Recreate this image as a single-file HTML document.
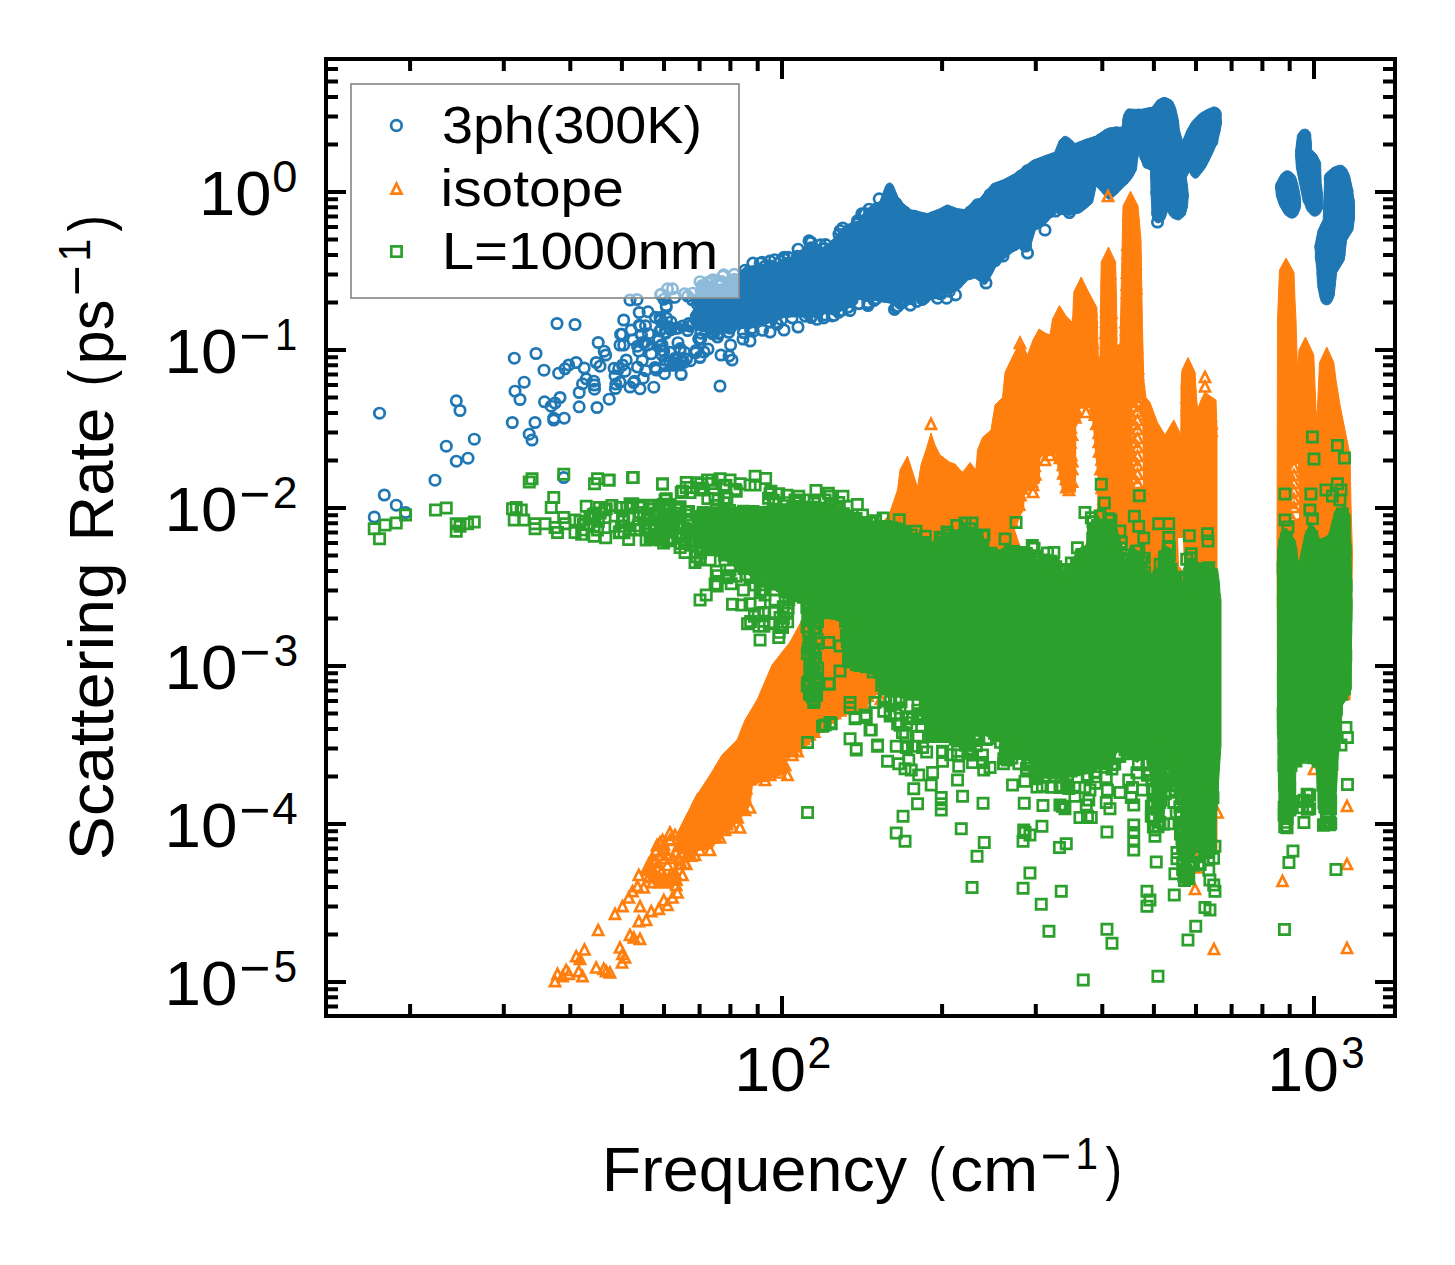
<!DOCTYPE html>
<html><head><meta charset="utf-8"><title>Scattering Rate</title>
<style>html,body{margin:0;padding:0;background:#fff}svg{display:block}text{font-family:"Liberation Sans",sans-serif;fill:#000}</style></head><body>
<svg width="1455" height="1265" viewBox="0 0 1455 1265">
<rect width="1455" height="1265" fill="#fff"/>
<defs><clipPath id="ax"><rect x="326" y="59" width="1069" height="957"/></clipPath></defs>
<g clip-path="url(#ax)">
<path d="M690.7 314.1L690.2 316L690.7 317.6L699.6 329.9L701.2 330.6L715.2 332.4L740 328.4L750 328.4L759.8 326.4L784.1 317.4L800.1 316.4L820 314.4L840.3 311.3L847.6 309L848.5 308.1L849 306.9L849.1 305.6L848.5 304.2L857.6 299.4L875.9 300.4L895.1 304.2L896.5 304.2L905.2 301.3L915.1 297.4L932.6 296.4L955 291.4L960.4 288.2L967.2 280.3L974.9 277.9L979.7 281.3L982.7 284.1L984 284.4L985.6 284.2L987.3 282.7L995.3 267.7L1005.2 257.9L1012.2 252.4L1020 248L1025.3 251.4L1027 251.5L1028.8 250.6L1029.6 249.1L1035.3 230.3L1045.1 224.4L1050.4 218.2L1056.1 212.9L1062.1 214.4L1069 215.3L1079.5 213L1080.8 212.4L1086.3 208.2L1092.6 202.7L1096.2 185.9L1107.8 198.9L1109.4 199.2L1110.7 198.9L1115.2 195.4L1130.3 180.2L1136 170.8L1136.5 169.4L1137.4 160L1139 151.8L1140.6 158.2L1143.5 166.8L1144.8 167.9L1146.9 168.4L1150.6 170.2L1151.1 195.1L1152.1 214.9L1152.9 219.2L1156 222.2L1157.5 222.8L1159.1 222.7L1163.3 220.7L1164.7 219.2L1167.6 211L1169.6 215.1L1172.7 218.2L1177.6 219.9L1179.7 219.8L1185.2 215.1L1187.4 207.1L1188.4 195L1186.4 177.6L1189 171L1191.5 175.8L1193.4 177.6L1194.6 178.1L1195.9 178.2L1197.9 177.2L1205.5 167.4L1212.8 152.8L1217.4 142.1L1220.3 130.3L1221.4 122L1220.9 113.9L1219.7 110L1218.1 108.2L1215 107L1213.3 106.9L1206.7 109.7L1199.7 113.8L1192.5 121.1L1187.2 129.8L1182.6 141.3L1179.4 129.9L1178.3 119.7L1175.5 107.7L1172.7 101.5L1171.5 100.3L1166 97.6L1164 97.5L1157.6 100L1152.3 107.1L1140 109.6L1128 108.9L1126.4 110.1L1123.7 114.9L1122.1 127.1L1109.4 127.8L1104.7 129.8L1097.3 135.6L1085 139.6L1075.1 143.5L1069.9 138.5L1066.4 136.4L1065 136.3L1063.7 136.6L1059.5 140.3L1054.7 152.2L1044.8 155.7L1032.4 160.6L1014.7 173.7L1003.8 179.6L992.3 183.8L979.8 198.6L974.6 199.9L964.9 209.6L957.1 208.6L947.7 204.9L946.1 205.3L939.8 208.7L927.5 213.6L910.2 209.6L903.3 203.7L897.8 196.8L893.5 186.2L892.2 184.2L890.5 183.1L888.3 183.2L887.2 184L885.6 186.1L879.7 202.2L873.7 203.5L872.6 204.1L864.7 211.7L858 221.2L845.4 225L837.3 234.8L827.8 244.7L818.3 249.5L813.5 246.1L812.2 245.8L810.9 246.1L809.3 247.3L803.1 256.4L798.3 253.1L797.1 252.7L795.8 252.9L794.4 253.8L789.2 260.6L745.3 266.8L739.9 271.6L734.7 277.7L714.8 287.7L700.1 299.4zM1290.9 171.9L1288.3 170.8L1286.1 170.9L1284.5 171.5L1281.2 174.2L1276.1 183.5L1275.5 186L1276.4 196.1L1279.7 205.7L1284.9 214.5L1289.4 217.6L1292.2 218.3L1295.3 217.2L1297.8 214.6L1300.5 207.6L1300.6 200.3L1299.5 192.2L1297.4 182.4L1294.6 175.2zM1308.1 130.2L1305.6 129.1L1302.3 129.5L1300.2 131.2L1297.5 135.3L1295.4 152.5L1296.4 167.7L1302.3 196.8L1306.6 209.2L1307.7 211.1L1311.4 215.1L1313.4 216.1L1315.5 216.2L1317.6 215.5L1319.6 213.9L1322.4 209L1323 206.7L1322.6 195.2L1321.1 182.4L1320.6 163.1L1320 161.2L1316.6 154.9L1311.6 149.7L1310.7 134.2L1309.7 131.8zM1323.2 219.8L1318 230.5L1315.2 244.9L1315.4 256.8L1316.9 270L1317.4 282.4L1319.5 295.5L1321.2 301.2L1322 302.7L1324.3 304.4L1327 304.9L1329.5 304L1331.4 302.3L1334.2 295.4L1336.6 272.7L1344.2 260.2L1346.6 240.2L1353 229.9L1354.6 216.4L1354.3 202.1L1352.5 189.7L1349.5 175.4L1346.5 168.9L1343.6 166.3L1341.7 165.3L1338.6 165.3L1332.7 167.6L1325.8 173.5L1324.7 175.5z" fill="#1f77b4" stroke="#1f77b4" stroke-width="1" stroke-linejoin="round"/>
<path d="M374.3 413.2a5.2 5.2 0 1 0 10.4 0a5.2 5.2 0 1 0 -10.4 0M451.1 400.8a5.2 5.2 0 1 0 10.4 0a5.2 5.2 0 1 0 -10.4 0M454.8 410.5a5.2 5.2 0 1 0 10.4 0a5.2 5.2 0 1 0 -10.4 0M469.1 439.2a5.2 5.2 0 1 0 10.4 0a5.2 5.2 0 1 0 -10.4 0M441.1 446.2a5.2 5.2 0 1 0 10.4 0a5.2 5.2 0 1 0 -10.4 0M462.8 458.2a5.2 5.2 0 1 0 10.4 0a5.2 5.2 0 1 0 -10.4 0M451.1 461.2a5.2 5.2 0 1 0 10.4 0a5.2 5.2 0 1 0 -10.4 0M429.8 480.2a5.2 5.2 0 1 0 10.4 0a5.2 5.2 0 1 0 -10.4 0M379.1 495a5.2 5.2 0 1 0 10.4 0a5.2 5.2 0 1 0 -10.4 0M391.1 505.2a5.2 5.2 0 1 0 10.4 0a5.2 5.2 0 1 0 -10.4 0M400.3 512.5a5.2 5.2 0 1 0 10.4 0a5.2 5.2 0 1 0 -10.4 0M369.1 517a5.2 5.2 0 1 0 10.4 0a5.2 5.2 0 1 0 -10.4 0M558.5 477.5a5.2 5.2 0 1 0 10.4 0a5.2 5.2 0 1 0 -10.4 0M509.1 358.2a5.2 5.2 0 1 0 10.4 0a5.2 5.2 0 1 0 -10.4 0M530.8 353.5a5.2 5.2 0 1 0 10.4 0a5.2 5.2 0 1 0 -10.4 0M551.8 323.5a5.2 5.2 0 1 0 10.4 0a5.2 5.2 0 1 0 -10.4 0M569.8 324.5a5.2 5.2 0 1 0 10.4 0a5.2 5.2 0 1 0 -10.4 0M538.8 370.2a5.2 5.2 0 1 0 10.4 0a5.2 5.2 0 1 0 -10.4 0M519 382.2a5.2 5.2 0 1 0 10.4 0a5.2 5.2 0 1 0 -10.4 0M509.8 391.2a5.2 5.2 0 1 0 10.4 0a5.2 5.2 0 1 0 -10.4 0M514.8 399.5a5.2 5.2 0 1 0 10.4 0a5.2 5.2 0 1 0 -10.4 0M507.1 422.5a5.2 5.2 0 1 0 10.4 0a5.2 5.2 0 1 0 -10.4 0M529.8 422.5a5.2 5.2 0 1 0 10.4 0a5.2 5.2 0 1 0 -10.4 0M524 434.2a5.2 5.2 0 1 0 10.4 0a5.2 5.2 0 1 0 -10.4 0M526.8 440a5.2 5.2 0 1 0 10.4 0a5.2 5.2 0 1 0 -10.4 0M539.3 401.8a5.2 5.2 0 1 0 10.4 0a5.2 5.2 0 1 0 -10.4 0M546 406.2a5.2 5.2 0 1 0 10.4 0a5.2 5.2 0 1 0 -10.4 0M549.8 403a5.2 5.2 0 1 0 10.4 0a5.2 5.2 0 1 0 -10.4 0M554.8 397.5a5.2 5.2 0 1 0 10.4 0a5.2 5.2 0 1 0 -10.4 0M548.5 418.2a5.2 5.2 0 1 0 10.4 0a5.2 5.2 0 1 0 -10.4 0M559 418.2a5.2 5.2 0 1 0 10.4 0a5.2 5.2 0 1 0 -10.4 0M548.5 420a5.2 5.2 0 1 0 10.4 0a5.2 5.2 0 1 0 -10.4 0M574 406.8a5.2 5.2 0 1 0 10.4 0a5.2 5.2 0 1 0 -10.4 0M574 392.5a5.2 5.2 0 1 0 10.4 0a5.2 5.2 0 1 0 -10.4 0M591.8 407.5a5.2 5.2 0 1 0 10.4 0a5.2 5.2 0 1 0 -10.4 0M604 399.2a5.2 5.2 0 1 0 10.4 0a5.2 5.2 0 1 0 -10.4 0M553.5 373.2a5.2 5.2 0 1 0 10.4 0a5.2 5.2 0 1 0 -10.4 0M559.8 368.8a5.2 5.2 0 1 0 10.4 0a5.2 5.2 0 1 0 -10.4 0M563.5 365a5.2 5.2 0 1 0 10.4 0a5.2 5.2 0 1 0 -10.4 0M571 362.5a5.2 5.2 0 1 0 10.4 0a5.2 5.2 0 1 0 -10.4 0M579 368a5.2 5.2 0 1 0 10.4 0a5.2 5.2 0 1 0 -10.4 0M581 378.8a5.2 5.2 0 1 0 10.4 0a5.2 5.2 0 1 0 -10.4 0M577.3 383.8a5.2 5.2 0 1 0 10.4 0a5.2 5.2 0 1 0 -10.4 0M588.5 381.2a5.2 5.2 0 1 0 10.4 0a5.2 5.2 0 1 0 -10.4 0M589.3 385a5.2 5.2 0 1 0 10.4 0a5.2 5.2 0 1 0 -10.4 0M589.3 389.2a5.2 5.2 0 1 0 10.4 0a5.2 5.2 0 1 0 -10.4 0M593 342.5a5.2 5.2 0 1 0 10.4 0a5.2 5.2 0 1 0 -10.4 0M599 351.2a5.2 5.2 0 1 0 10.4 0a5.2 5.2 0 1 0 -10.4 0M600.5 355a5.2 5.2 0 1 0 10.4 0a5.2 5.2 0 1 0 -10.4 0M591 362.5a5.2 5.2 0 1 0 10.4 0a5.2 5.2 0 1 0 -10.4 0M594.8 366.2a5.2 5.2 0 1 0 10.4 0a5.2 5.2 0 1 0 -10.4 0M609.8 375.8a5.2 5.2 0 1 0 10.4 0a5.2 5.2 0 1 0 -10.4 0M613.5 368.8a5.2 5.2 0 1 0 10.4 0a5.2 5.2 0 1 0 -10.4 0M617.3 365a5.2 5.2 0 1 0 10.4 0a5.2 5.2 0 1 0 -10.4 0M621 360a5.2 5.2 0 1 0 10.4 0a5.2 5.2 0 1 0 -10.4 0M619.8 371.2a5.2 5.2 0 1 0 10.4 0a5.2 5.2 0 1 0 -10.4 0M624.8 387a5.2 5.2 0 1 0 10.4 0a5.2 5.2 0 1 0 -10.4 0M628.5 382.5a5.2 5.2 0 1 0 10.4 0a5.2 5.2 0 1 0 -10.4 0M634.8 388.8a5.2 5.2 0 1 0 10.4 0a5.2 5.2 0 1 0 -10.4 0M638 378.2a5.2 5.2 0 1 0 10.4 0a5.2 5.2 0 1 0 -10.4 0M632.3 367a5.2 5.2 0 1 0 10.4 0a5.2 5.2 0 1 0 -10.4 0M618.5 320a5.2 5.2 0 1 0 10.4 0a5.2 5.2 0 1 0 -10.4 0M616.8 334.2a5.2 5.2 0 1 0 10.4 0a5.2 5.2 0 1 0 -10.4 0M614.8 345a5.2 5.2 0 1 0 10.4 0a5.2 5.2 0 1 0 -10.4 0M618.5 345a5.2 5.2 0 1 0 10.4 0a5.2 5.2 0 1 0 -10.4 0M624.8 300a5.2 5.2 0 1 0 10.4 0a5.2 5.2 0 1 0 -10.4 0M631.8 299.5a5.2 5.2 0 1 0 10.4 0a5.2 5.2 0 1 0 -10.4 0M634 312.5a5.2 5.2 0 1 0 10.4 0a5.2 5.2 0 1 0 -10.4 0M642.8 311.8a5.2 5.2 0 1 0 10.4 0a5.2 5.2 0 1 0 -10.4 0M634.8 326.2a5.2 5.2 0 1 0 10.4 0a5.2 5.2 0 1 0 -10.4 0M640.3 325.8a5.2 5.2 0 1 0 10.4 0a5.2 5.2 0 1 0 -10.4 0M626 330a5.2 5.2 0 1 0 10.4 0a5.2 5.2 0 1 0 -10.4 0M656 294.2a5.2 5.2 0 1 0 10.4 0a5.2 5.2 0 1 0 -10.4 0M662.3 288.8a5.2 5.2 0 1 0 10.4 0a5.2 5.2 0 1 0 -10.4 0M667.3 288.8a5.2 5.2 0 1 0 10.4 0a5.2 5.2 0 1 0 -10.4 0M654.8 317.5a5.2 5.2 0 1 0 10.4 0a5.2 5.2 0 1 0 -10.4 0M676 374.5a5.2 5.2 0 1 0 10.4 0a5.2 5.2 0 1 0 -10.4 0M678.5 362.5a5.2 5.2 0 1 0 10.4 0a5.2 5.2 0 1 0 -10.4 0M694.8 357.5a5.2 5.2 0 1 0 10.4 0a5.2 5.2 0 1 0 -10.4 0M649.8 367.5a5.2 5.2 0 1 0 10.4 0a5.2 5.2 0 1 0 -10.4 0M651 370a5.2 5.2 0 1 0 10.4 0a5.2 5.2 0 1 0 -10.4 0M659.8 360a5.2 5.2 0 1 0 10.4 0a5.2 5.2 0 1 0 -10.4 0M664.8 362.5a5.2 5.2 0 1 0 10.4 0a5.2 5.2 0 1 0 -10.4 0M646 353.8a5.2 5.2 0 1 0 10.4 0a5.2 5.2 0 1 0 -10.4 0M632.3 346.2a5.2 5.2 0 1 0 10.4 0a5.2 5.2 0 1 0 -10.4 0M637.3 342.5a5.2 5.2 0 1 0 10.4 0a5.2 5.2 0 1 0 -10.4 0M642.3 345a5.2 5.2 0 1 0 10.4 0a5.2 5.2 0 1 0 -10.4 0M633.5 351.2a5.2 5.2 0 1 0 10.4 0a5.2 5.2 0 1 0 -10.4 0M654.8 346.2a5.2 5.2 0 1 0 10.4 0a5.2 5.2 0 1 0 -10.4 0M658.5 351.2a5.2 5.2 0 1 0 10.4 0a5.2 5.2 0 1 0 -10.4 0M659.8 332.5a5.2 5.2 0 1 0 10.4 0a5.2 5.2 0 1 0 -10.4 0M656 328.8a5.2 5.2 0 1 0 10.4 0a5.2 5.2 0 1 0 -10.4 0M1050.4 211a5.2 5.2 0 1 0 10.4 0a5.2 5.2 0 1 0 -10.4 0M1064.2 212.5a5.2 5.2 0 1 0 10.4 0a5.2 5.2 0 1 0 -10.4 0M1020.4 246a5.2 5.2 0 1 0 10.4 0a5.2 5.2 0 1 0 -10.4 0M997.8 256a5.2 5.2 0 1 0 10.4 0a5.2 5.2 0 1 0 -10.4 0M980.8 283a5.2 5.2 0 1 0 10.4 0a5.2 5.2 0 1 0 -10.4 0M694.8 357a5.2 5.2 0 1 0 10.4 0a5.2 5.2 0 1 0 -10.4 0M698.8 352a5.2 5.2 0 1 0 10.4 0a5.2 5.2 0 1 0 -10.4 0M702.8 349a5.2 5.2 0 1 0 10.4 0a5.2 5.2 0 1 0 -10.4 0M715.8 355a5.2 5.2 0 1 0 10.4 0a5.2 5.2 0 1 0 -10.4 0M723.8 356a5.2 5.2 0 1 0 10.4 0a5.2 5.2 0 1 0 -10.4 0M726.8 360a5.2 5.2 0 1 0 10.4 0a5.2 5.2 0 1 0 -10.4 0M725.4 345a5.2 5.2 0 1 0 10.4 0a5.2 5.2 0 1 0 -10.4 0M712.3 337a5.2 5.2 0 1 0 10.4 0a5.2 5.2 0 1 0 -10.4 0M737.8 339a5.2 5.2 0 1 0 10.4 0a5.2 5.2 0 1 0 -10.4 0M744.8 341a5.2 5.2 0 1 0 10.4 0a5.2 5.2 0 1 0 -10.4 0M764.8 332a5.2 5.2 0 1 0 10.4 0a5.2 5.2 0 1 0 -10.4 0M778.8 330a5.2 5.2 0 1 0 10.4 0a5.2 5.2 0 1 0 -10.4 0M792.8 327a5.2 5.2 0 1 0 10.4 0a5.2 5.2 0 1 0 -10.4 0M714.8 386a5.2 5.2 0 1 0 10.4 0a5.2 5.2 0 1 0 -10.4 0M675.8 374a5.2 5.2 0 1 0 10.4 0a5.2 5.2 0 1 0 -10.4 0M1039.8 230a5.2 5.2 0 1 0 10.4 0a5.2 5.2 0 1 0 -10.4 0M1022.3 253a5.2 5.2 0 1 0 10.4 0a5.2 5.2 0 1 0 -10.4 0M1152.3 222a5.2 5.2 0 1 0 10.4 0a5.2 5.2 0 1 0 -10.4 0M706.1 281.7a5.2 5.2 0 1 0 10.4 0a5.2 5.2 0 1 0 -10.4 0M717.6 276.1a5.2 5.2 0 1 0 10.4 0a5.2 5.2 0 1 0 -10.4 0M713.6 297a5.2 5.2 0 1 0 10.4 0a5.2 5.2 0 1 0 -10.4 0M696.8 307a5.2 5.2 0 1 0 10.4 0a5.2 5.2 0 1 0 -10.4 0M696.1 301.8a5.2 5.2 0 1 0 10.4 0a5.2 5.2 0 1 0 -10.4 0M709.7 329.7a5.2 5.2 0 1 0 10.4 0a5.2 5.2 0 1 0 -10.4 0M699.1 286.8a5.2 5.2 0 1 0 10.4 0a5.2 5.2 0 1 0 -10.4 0M715 299.2a5.2 5.2 0 1 0 10.4 0a5.2 5.2 0 1 0 -10.4 0M729 274.3a5.2 5.2 0 1 0 10.4 0a5.2 5.2 0 1 0 -10.4 0M724.8 291.6a5.2 5.2 0 1 0 10.4 0a5.2 5.2 0 1 0 -10.4 0M705.6 328.9a5.2 5.2 0 1 0 10.4 0a5.2 5.2 0 1 0 -10.4 0M701.1 312.3a5.2 5.2 0 1 0 10.4 0a5.2 5.2 0 1 0 -10.4 0M717.2 297.4a5.2 5.2 0 1 0 10.4 0a5.2 5.2 0 1 0 -10.4 0M696.9 285.6a5.2 5.2 0 1 0 10.4 0a5.2 5.2 0 1 0 -10.4 0M718.6 301.4a5.2 5.2 0 1 0 10.4 0a5.2 5.2 0 1 0 -10.4 0M705.8 312.6a5.2 5.2 0 1 0 10.4 0a5.2 5.2 0 1 0 -10.4 0M710.7 292.3a5.2 5.2 0 1 0 10.4 0a5.2 5.2 0 1 0 -10.4 0M722.6 320.6a5.2 5.2 0 1 0 10.4 0a5.2 5.2 0 1 0 -10.4 0M703.3 311.8a5.2 5.2 0 1 0 10.4 0a5.2 5.2 0 1 0 -10.4 0M713.2 333.1a5.2 5.2 0 1 0 10.4 0a5.2 5.2 0 1 0 -10.4 0M720.3 291.4a5.2 5.2 0 1 0 10.4 0a5.2 5.2 0 1 0 -10.4 0M729.1 279.4a5.2 5.2 0 1 0 10.4 0a5.2 5.2 0 1 0 -10.4 0M709.4 324.8a5.2 5.2 0 1 0 10.4 0a5.2 5.2 0 1 0 -10.4 0M700.1 305.7a5.2 5.2 0 1 0 10.4 0a5.2 5.2 0 1 0 -10.4 0M696.2 318.4a5.2 5.2 0 1 0 10.4 0a5.2 5.2 0 1 0 -10.4 0M721.6 311.7a5.2 5.2 0 1 0 10.4 0a5.2 5.2 0 1 0 -10.4 0M725.4 293.3a5.2 5.2 0 1 0 10.4 0a5.2 5.2 0 1 0 -10.4 0M719.1 313.2a5.2 5.2 0 1 0 10.4 0a5.2 5.2 0 1 0 -10.4 0M715.1 303.4a5.2 5.2 0 1 0 10.4 0a5.2 5.2 0 1 0 -10.4 0M711.4 318.2a5.2 5.2 0 1 0 10.4 0a5.2 5.2 0 1 0 -10.4 0M696.9 320.8a5.2 5.2 0 1 0 10.4 0a5.2 5.2 0 1 0 -10.4 0M723.6 291.2a5.2 5.2 0 1 0 10.4 0a5.2 5.2 0 1 0 -10.4 0M708.3 318.5a5.2 5.2 0 1 0 10.4 0a5.2 5.2 0 1 0 -10.4 0M695.6 303.8a5.2 5.2 0 1 0 10.4 0a5.2 5.2 0 1 0 -10.4 0M696.9 325.5a5.2 5.2 0 1 0 10.4 0a5.2 5.2 0 1 0 -10.4 0M699.3 288.6a5.2 5.2 0 1 0 10.4 0a5.2 5.2 0 1 0 -10.4 0M708.5 332.9a5.2 5.2 0 1 0 10.4 0a5.2 5.2 0 1 0 -10.4 0M697.6 302.9a5.2 5.2 0 1 0 10.4 0a5.2 5.2 0 1 0 -10.4 0M714 333.7a5.2 5.2 0 1 0 10.4 0a5.2 5.2 0 1 0 -10.4 0M723.5 332.3a5.2 5.2 0 1 0 10.4 0a5.2 5.2 0 1 0 -10.4 0M704.5 300.5a5.2 5.2 0 1 0 10.4 0a5.2 5.2 0 1 0 -10.4 0M707.4 333.8a5.2 5.2 0 1 0 10.4 0a5.2 5.2 0 1 0 -10.4 0M728.3 281.7a5.2 5.2 0 1 0 10.4 0a5.2 5.2 0 1 0 -10.4 0M701 287.5a5.2 5.2 0 1 0 10.4 0a5.2 5.2 0 1 0 -10.4 0M703 305.4a5.2 5.2 0 1 0 10.4 0a5.2 5.2 0 1 0 -10.4 0M715.4 289.7a5.2 5.2 0 1 0 10.4 0a5.2 5.2 0 1 0 -10.4 0M694.9 300.7a5.2 5.2 0 1 0 10.4 0a5.2 5.2 0 1 0 -10.4 0M707.7 311.2a5.2 5.2 0 1 0 10.4 0a5.2 5.2 0 1 0 -10.4 0M728.2 320a5.2 5.2 0 1 0 10.4 0a5.2 5.2 0 1 0 -10.4 0M712.8 314.8a5.2 5.2 0 1 0 10.4 0a5.2 5.2 0 1 0 -10.4 0M718.5 274.8a5.2 5.2 0 1 0 10.4 0a5.2 5.2 0 1 0 -10.4 0M726.3 326.4a5.2 5.2 0 1 0 10.4 0a5.2 5.2 0 1 0 -10.4 0M725.4 327.6a5.2 5.2 0 1 0 10.4 0a5.2 5.2 0 1 0 -10.4 0M708.5 299.3a5.2 5.2 0 1 0 10.4 0a5.2 5.2 0 1 0 -10.4 0M698.4 316a5.2 5.2 0 1 0 10.4 0a5.2 5.2 0 1 0 -10.4 0M702.1 282.5a5.2 5.2 0 1 0 10.4 0a5.2 5.2 0 1 0 -10.4 0M694.8 281.7a5.2 5.2 0 1 0 10.4 0a5.2 5.2 0 1 0 -10.4 0M698.4 296.8a5.2 5.2 0 1 0 10.4 0a5.2 5.2 0 1 0 -10.4 0M695.7 333.1a5.2 5.2 0 1 0 10.4 0a5.2 5.2 0 1 0 -10.4 0M716.3 281.5a5.2 5.2 0 1 0 10.4 0a5.2 5.2 0 1 0 -10.4 0M703.6 295.7a5.2 5.2 0 1 0 10.4 0a5.2 5.2 0 1 0 -10.4 0M707.5 279.7a5.2 5.2 0 1 0 10.4 0a5.2 5.2 0 1 0 -10.4 0M711.1 305.4a5.2 5.2 0 1 0 10.4 0a5.2 5.2 0 1 0 -10.4 0M706.8 289.8a5.2 5.2 0 1 0 10.4 0a5.2 5.2 0 1 0 -10.4 0M723.8 282.5a5.2 5.2 0 1 0 10.4 0a5.2 5.2 0 1 0 -10.4 0M695.6 338.5a5.2 5.2 0 1 0 10.4 0a5.2 5.2 0 1 0 -10.4 0M713.3 281.4a5.2 5.2 0 1 0 10.4 0a5.2 5.2 0 1 0 -10.4 0M725 320.4a5.2 5.2 0 1 0 10.4 0a5.2 5.2 0 1 0 -10.4 0M703.9 297a5.2 5.2 0 1 0 10.4 0a5.2 5.2 0 1 0 -10.4 0M700.6 325.8a5.2 5.2 0 1 0 10.4 0a5.2 5.2 0 1 0 -10.4 0M713.4 326.3a5.2 5.2 0 1 0 10.4 0a5.2 5.2 0 1 0 -10.4 0M706.3 286.8a5.2 5.2 0 1 0 10.4 0a5.2 5.2 0 1 0 -10.4 0M724.6 328.2a5.2 5.2 0 1 0 10.4 0a5.2 5.2 0 1 0 -10.4 0M723.4 323.5a5.2 5.2 0 1 0 10.4 0a5.2 5.2 0 1 0 -10.4 0M702.7 307.8a5.2 5.2 0 1 0 10.4 0a5.2 5.2 0 1 0 -10.4 0M695.8 290.8a5.2 5.2 0 1 0 10.4 0a5.2 5.2 0 1 0 -10.4 0M703.9 320.2a5.2 5.2 0 1 0 10.4 0a5.2 5.2 0 1 0 -10.4 0M728.3 302.8a5.2 5.2 0 1 0 10.4 0a5.2 5.2 0 1 0 -10.4 0M728.2 296.9a5.2 5.2 0 1 0 10.4 0a5.2 5.2 0 1 0 -10.4 0M702.5 287.1a5.2 5.2 0 1 0 10.4 0a5.2 5.2 0 1 0 -10.4 0M658.7 299.2a5.2 5.2 0 1 0 10.4 0a5.2 5.2 0 1 0 -10.4 0M677.9 361.1a5.2 5.2 0 1 0 10.4 0a5.2 5.2 0 1 0 -10.4 0M687.6 323.7a5.2 5.2 0 1 0 10.4 0a5.2 5.2 0 1 0 -10.4 0M679.2 352.2a5.2 5.2 0 1 0 10.4 0a5.2 5.2 0 1 0 -10.4 0M653.6 339.8a5.2 5.2 0 1 0 10.4 0a5.2 5.2 0 1 0 -10.4 0M690.7 350.6a5.2 5.2 0 1 0 10.4 0a5.2 5.2 0 1 0 -10.4 0M683.6 323.5a5.2 5.2 0 1 0 10.4 0a5.2 5.2 0 1 0 -10.4 0M657.8 351.2a5.2 5.2 0 1 0 10.4 0a5.2 5.2 0 1 0 -10.4 0M664.8 352.3a5.2 5.2 0 1 0 10.4 0a5.2 5.2 0 1 0 -10.4 0M693.5 316.2a5.2 5.2 0 1 0 10.4 0a5.2 5.2 0 1 0 -10.4 0M667.9 365.3a5.2 5.2 0 1 0 10.4 0a5.2 5.2 0 1 0 -10.4 0M682.4 296.1a5.2 5.2 0 1 0 10.4 0a5.2 5.2 0 1 0 -10.4 0M655.5 294.5a5.2 5.2 0 1 0 10.4 0a5.2 5.2 0 1 0 -10.4 0M690.5 352.8a5.2 5.2 0 1 0 10.4 0a5.2 5.2 0 1 0 -10.4 0M656.4 354.6a5.2 5.2 0 1 0 10.4 0a5.2 5.2 0 1 0 -10.4 0M693.9 339.5a5.2 5.2 0 1 0 10.4 0a5.2 5.2 0 1 0 -10.4 0M665.6 329.8a5.2 5.2 0 1 0 10.4 0a5.2 5.2 0 1 0 -10.4 0M693.5 338.8a5.2 5.2 0 1 0 10.4 0a5.2 5.2 0 1 0 -10.4 0M673.5 364.1a5.2 5.2 0 1 0 10.4 0a5.2 5.2 0 1 0 -10.4 0M669.3 358.6a5.2 5.2 0 1 0 10.4 0a5.2 5.2 0 1 0 -10.4 0M687 299.8a5.2 5.2 0 1 0 10.4 0a5.2 5.2 0 1 0 -10.4 0M661.1 307.1a5.2 5.2 0 1 0 10.4 0a5.2 5.2 0 1 0 -10.4 0M660.6 333.2a5.2 5.2 0 1 0 10.4 0a5.2 5.2 0 1 0 -10.4 0M661.5 318.3a5.2 5.2 0 1 0 10.4 0a5.2 5.2 0 1 0 -10.4 0M665.7 321.8a5.2 5.2 0 1 0 10.4 0a5.2 5.2 0 1 0 -10.4 0M676.1 361.5a5.2 5.2 0 1 0 10.4 0a5.2 5.2 0 1 0 -10.4 0M668.7 362.7a5.2 5.2 0 1 0 10.4 0a5.2 5.2 0 1 0 -10.4 0M672.4 328.3a5.2 5.2 0 1 0 10.4 0a5.2 5.2 0 1 0 -10.4 0M669.6 297.3a5.2 5.2 0 1 0 10.4 0a5.2 5.2 0 1 0 -10.4 0M657.6 323.1a5.2 5.2 0 1 0 10.4 0a5.2 5.2 0 1 0 -10.4 0M682.4 330.5a5.2 5.2 0 1 0 10.4 0a5.2 5.2 0 1 0 -10.4 0M664.5 327.1a5.2 5.2 0 1 0 10.4 0a5.2 5.2 0 1 0 -10.4 0M674.8 350.8a5.2 5.2 0 1 0 10.4 0a5.2 5.2 0 1 0 -10.4 0M654.6 330.9a5.2 5.2 0 1 0 10.4 0a5.2 5.2 0 1 0 -10.4 0M661 305.6a5.2 5.2 0 1 0 10.4 0a5.2 5.2 0 1 0 -10.4 0M684.6 326.2a5.2 5.2 0 1 0 10.4 0a5.2 5.2 0 1 0 -10.4 0M675.1 348.6a5.2 5.2 0 1 0 10.4 0a5.2 5.2 0 1 0 -10.4 0M690.9 320.4a5.2 5.2 0 1 0 10.4 0a5.2 5.2 0 1 0 -10.4 0M677.4 326a5.2 5.2 0 1 0 10.4 0a5.2 5.2 0 1 0 -10.4 0M672.8 342.7a5.2 5.2 0 1 0 10.4 0a5.2 5.2 0 1 0 -10.4 0M670.2 328.5a5.2 5.2 0 1 0 10.4 0a5.2 5.2 0 1 0 -10.4 0M671.3 364.8a5.2 5.2 0 1 0 10.4 0a5.2 5.2 0 1 0 -10.4 0M681.3 359a5.2 5.2 0 1 0 10.4 0a5.2 5.2 0 1 0 -10.4 0M692.2 304.1a5.2 5.2 0 1 0 10.4 0a5.2 5.2 0 1 0 -10.4 0M675 365a5.2 5.2 0 1 0 10.4 0a5.2 5.2 0 1 0 -10.4 0M687.6 293.2a5.2 5.2 0 1 0 10.4 0a5.2 5.2 0 1 0 -10.4 0M655.3 320.3a5.2 5.2 0 1 0 10.4 0a5.2 5.2 0 1 0 -10.4 0M653.1 340.6a5.2 5.2 0 1 0 10.4 0a5.2 5.2 0 1 0 -10.4 0M685.1 360.8a5.2 5.2 0 1 0 10.4 0a5.2 5.2 0 1 0 -10.4 0M656.8 344.7a5.2 5.2 0 1 0 10.4 0a5.2 5.2 0 1 0 -10.4 0M679.5 293.7a5.2 5.2 0 1 0 10.4 0a5.2 5.2 0 1 0 -10.4 0M659.7 365.8a5.2 5.2 0 1 0 10.4 0a5.2 5.2 0 1 0 -10.4 0M627.9 339.8a5.2 5.2 0 1 0 10.4 0a5.2 5.2 0 1 0 -10.4 0M659.3 373.6a5.2 5.2 0 1 0 10.4 0a5.2 5.2 0 1 0 -10.4 0M615.4 334.3a5.2 5.2 0 1 0 10.4 0a5.2 5.2 0 1 0 -10.4 0M634.1 325.2a5.2 5.2 0 1 0 10.4 0a5.2 5.2 0 1 0 -10.4 0M636.2 335.2a5.2 5.2 0 1 0 10.4 0a5.2 5.2 0 1 0 -10.4 0M639.9 342.2a5.2 5.2 0 1 0 10.4 0a5.2 5.2 0 1 0 -10.4 0M610.2 388.5a5.2 5.2 0 1 0 10.4 0a5.2 5.2 0 1 0 -10.4 0M648.6 387.2a5.2 5.2 0 1 0 10.4 0a5.2 5.2 0 1 0 -10.4 0M608.9 368.3a5.2 5.2 0 1 0 10.4 0a5.2 5.2 0 1 0 -10.4 0M629.2 381.3a5.2 5.2 0 1 0 10.4 0a5.2 5.2 0 1 0 -10.4 0M650.2 317.3a5.2 5.2 0 1 0 10.4 0a5.2 5.2 0 1 0 -10.4 0M614.7 382.1a5.2 5.2 0 1 0 10.4 0a5.2 5.2 0 1 0 -10.4 0M637 360.6a5.2 5.2 0 1 0 10.4 0a5.2 5.2 0 1 0 -10.4 0M643.3 333.7a5.2 5.2 0 1 0 10.4 0a5.2 5.2 0 1 0 -10.4 0M610.6 384a5.2 5.2 0 1 0 10.4 0a5.2 5.2 0 1 0 -10.4 0M640.4 370.6a5.2 5.2 0 1 0 10.4 0a5.2 5.2 0 1 0 -10.4 0M932.6 292.7a5.2 5.2 0 1 0 10.4 0a5.2 5.2 0 1 0 -10.4 0M764.9 322a5.2 5.2 0 1 0 10.4 0a5.2 5.2 0 1 0 -10.4 0M836 310.5a5.2 5.2 0 1 0 10.4 0a5.2 5.2 0 1 0 -10.4 0M921.1 295.5a5.2 5.2 0 1 0 10.4 0a5.2 5.2 0 1 0 -10.4 0M924.1 293.6a5.2 5.2 0 1 0 10.4 0a5.2 5.2 0 1 0 -10.4 0M904.1 298.7a5.2 5.2 0 1 0 10.4 0a5.2 5.2 0 1 0 -10.4 0M786.8 317.9a5.2 5.2 0 1 0 10.4 0a5.2 5.2 0 1 0 -10.4 0M909.3 294.2a5.2 5.2 0 1 0 10.4 0a5.2 5.2 0 1 0 -10.4 0M892.5 306.4a5.2 5.2 0 1 0 10.4 0a5.2 5.2 0 1 0 -10.4 0M833.5 312.3a5.2 5.2 0 1 0 10.4 0a5.2 5.2 0 1 0 -10.4 0M748 331.4a5.2 5.2 0 1 0 10.4 0a5.2 5.2 0 1 0 -10.4 0M853.7 303.6a5.2 5.2 0 1 0 10.4 0a5.2 5.2 0 1 0 -10.4 0M862.6 302.7a5.2 5.2 0 1 0 10.4 0a5.2 5.2 0 1 0 -10.4 0M738.2 332.5a5.2 5.2 0 1 0 10.4 0a5.2 5.2 0 1 0 -10.4 0M800.2 316.2a5.2 5.2 0 1 0 10.4 0a5.2 5.2 0 1 0 -10.4 0M871.1 298.6a5.2 5.2 0 1 0 10.4 0a5.2 5.2 0 1 0 -10.4 0M935.1 293.8a5.2 5.2 0 1 0 10.4 0a5.2 5.2 0 1 0 -10.4 0M911.6 301.4a5.2 5.2 0 1 0 10.4 0a5.2 5.2 0 1 0 -10.4 0M764.1 322.1a5.2 5.2 0 1 0 10.4 0a5.2 5.2 0 1 0 -10.4 0M895.4 303.3a5.2 5.2 0 1 0 10.4 0a5.2 5.2 0 1 0 -10.4 0M914.3 296.1a5.2 5.2 0 1 0 10.4 0a5.2 5.2 0 1 0 -10.4 0M745.4 329.9a5.2 5.2 0 1 0 10.4 0a5.2 5.2 0 1 0 -10.4 0M897.6 302.1a5.2 5.2 0 1 0 10.4 0a5.2 5.2 0 1 0 -10.4 0M868.9 300.4a5.2 5.2 0 1 0 10.4 0a5.2 5.2 0 1 0 -10.4 0M845 301.7a5.2 5.2 0 1 0 10.4 0a5.2 5.2 0 1 0 -10.4 0M842.8 307.3a5.2 5.2 0 1 0 10.4 0a5.2 5.2 0 1 0 -10.4 0M929.5 292.8a5.2 5.2 0 1 0 10.4 0a5.2 5.2 0 1 0 -10.4 0M944 291.2a5.2 5.2 0 1 0 10.4 0a5.2 5.2 0 1 0 -10.4 0M827.1 315.9a5.2 5.2 0 1 0 10.4 0a5.2 5.2 0 1 0 -10.4 0M811.7 319.3a5.2 5.2 0 1 0 10.4 0a5.2 5.2 0 1 0 -10.4 0M862.7 305.5a5.2 5.2 0 1 0 10.4 0a5.2 5.2 0 1 0 -10.4 0M917.2 299.4a5.2 5.2 0 1 0 10.4 0a5.2 5.2 0 1 0 -10.4 0M941.4 298.2a5.2 5.2 0 1 0 10.4 0a5.2 5.2 0 1 0 -10.4 0M818.6 317.9a5.2 5.2 0 1 0 10.4 0a5.2 5.2 0 1 0 -10.4 0M918.8 298a5.2 5.2 0 1 0 10.4 0a5.2 5.2 0 1 0 -10.4 0M772.2 324.2a5.2 5.2 0 1 0 10.4 0a5.2 5.2 0 1 0 -10.4 0M828.9 315.3a5.2 5.2 0 1 0 10.4 0a5.2 5.2 0 1 0 -10.4 0M801.6 312.5a5.2 5.2 0 1 0 10.4 0a5.2 5.2 0 1 0 -10.4 0M919.5 294.4a5.2 5.2 0 1 0 10.4 0a5.2 5.2 0 1 0 -10.4 0M771.1 322.5a5.2 5.2 0 1 0 10.4 0a5.2 5.2 0 1 0 -10.4 0M818.6 314.9a5.2 5.2 0 1 0 10.4 0a5.2 5.2 0 1 0 -10.4 0M950.3 294.9a5.2 5.2 0 1 0 10.4 0a5.2 5.2 0 1 0 -10.4 0M844.7 310.5a5.2 5.2 0 1 0 10.4 0a5.2 5.2 0 1 0 -10.4 0M936.1 293.5a5.2 5.2 0 1 0 10.4 0a5.2 5.2 0 1 0 -10.4 0M932.3 298.2a5.2 5.2 0 1 0 10.4 0a5.2 5.2 0 1 0 -10.4 0M905.1 305.1a5.2 5.2 0 1 0 10.4 0a5.2 5.2 0 1 0 -10.4 0M843.2 307a5.2 5.2 0 1 0 10.4 0a5.2 5.2 0 1 0 -10.4 0M805.9 317.5a5.2 5.2 0 1 0 10.4 0a5.2 5.2 0 1 0 -10.4 0M812.5 312.4a5.2 5.2 0 1 0 10.4 0a5.2 5.2 0 1 0 -10.4 0M894.7 302.8a5.2 5.2 0 1 0 10.4 0a5.2 5.2 0 1 0 -10.4 0M829.1 309.1a5.2 5.2 0 1 0 10.4 0a5.2 5.2 0 1 0 -10.4 0M891.2 307.2a5.2 5.2 0 1 0 10.4 0a5.2 5.2 0 1 0 -10.4 0M805.8 316.5a5.2 5.2 0 1 0 10.4 0a5.2 5.2 0 1 0 -10.4 0M846.9 299.9a5.2 5.2 0 1 0 10.4 0a5.2 5.2 0 1 0 -10.4 0M757.3 330.3a5.2 5.2 0 1 0 10.4 0a5.2 5.2 0 1 0 -10.4 0M747.3 328.2a5.2 5.2 0 1 0 10.4 0a5.2 5.2 0 1 0 -10.4 0M776.1 319.7a5.2 5.2 0 1 0 10.4 0a5.2 5.2 0 1 0 -10.4 0M889.3 309.4a5.2 5.2 0 1 0 10.4 0a5.2 5.2 0 1 0 -10.4 0M903.3 298a5.2 5.2 0 1 0 10.4 0a5.2 5.2 0 1 0 -10.4 0M842.5 307.4a5.2 5.2 0 1 0 10.4 0a5.2 5.2 0 1 0 -10.4 0M851.6 224a5.2 5.2 0 1 0 10.4 0a5.2 5.2 0 1 0 -10.4 0M833.8 234.2a5.2 5.2 0 1 0 10.4 0a5.2 5.2 0 1 0 -10.4 0M803.8 240.8a5.2 5.2 0 1 0 10.4 0a5.2 5.2 0 1 0 -10.4 0M806 242.4a5.2 5.2 0 1 0 10.4 0a5.2 5.2 0 1 0 -10.4 0M756.8 262.4a5.2 5.2 0 1 0 10.4 0a5.2 5.2 0 1 0 -10.4 0M852.2 220.8a5.2 5.2 0 1 0 10.4 0a5.2 5.2 0 1 0 -10.4 0M852.6 222.4a5.2 5.2 0 1 0 10.4 0a5.2 5.2 0 1 0 -10.4 0M837.5 228a5.2 5.2 0 1 0 10.4 0a5.2 5.2 0 1 0 -10.4 0M792.4 256.3a5.2 5.2 0 1 0 10.4 0a5.2 5.2 0 1 0 -10.4 0M820.2 244.5a5.2 5.2 0 1 0 10.4 0a5.2 5.2 0 1 0 -10.4 0M778.9 257.2a5.2 5.2 0 1 0 10.4 0a5.2 5.2 0 1 0 -10.4 0M852.8 223.1a5.2 5.2 0 1 0 10.4 0a5.2 5.2 0 1 0 -10.4 0M775.3 261.1a5.2 5.2 0 1 0 10.4 0a5.2 5.2 0 1 0 -10.4 0M765.4 266.1a5.2 5.2 0 1 0 10.4 0a5.2 5.2 0 1 0 -10.4 0M859.9 213.6a5.2 5.2 0 1 0 10.4 0a5.2 5.2 0 1 0 -10.4 0M863.9 209.2a5.2 5.2 0 1 0 10.4 0a5.2 5.2 0 1 0 -10.4 0M834.9 230.7a5.2 5.2 0 1 0 10.4 0a5.2 5.2 0 1 0 -10.4 0M803.2 251a5.2 5.2 0 1 0 10.4 0a5.2 5.2 0 1 0 -10.4 0M780.8 263.6a5.2 5.2 0 1 0 10.4 0a5.2 5.2 0 1 0 -10.4 0M755 263a5.2 5.2 0 1 0 10.4 0a5.2 5.2 0 1 0 -10.4 0M785.4 263.5a5.2 5.2 0 1 0 10.4 0a5.2 5.2 0 1 0 -10.4 0M778.7 259.1a5.2 5.2 0 1 0 10.4 0a5.2 5.2 0 1 0 -10.4 0M815.4 244.9a5.2 5.2 0 1 0 10.4 0a5.2 5.2 0 1 0 -10.4 0M759.8 266.5a5.2 5.2 0 1 0 10.4 0a5.2 5.2 0 1 0 -10.4 0M805.9 247.8a5.2 5.2 0 1 0 10.4 0a5.2 5.2 0 1 0 -10.4 0M874 198.8a5.2 5.2 0 1 0 10.4 0a5.2 5.2 0 1 0 -10.4 0M764.7 261.1a5.2 5.2 0 1 0 10.4 0a5.2 5.2 0 1 0 -10.4 0M747.7 263.1a5.2 5.2 0 1 0 10.4 0a5.2 5.2 0 1 0 -10.4 0M819.3 248.6a5.2 5.2 0 1 0 10.4 0a5.2 5.2 0 1 0 -10.4 0M798.1 255.6a5.2 5.2 0 1 0 10.4 0a5.2 5.2 0 1 0 -10.4 0M792.9 249.2a5.2 5.2 0 1 0 10.4 0a5.2 5.2 0 1 0 -10.4 0M783 257.4a5.2 5.2 0 1 0 10.4 0a5.2 5.2 0 1 0 -10.4 0M808.4 248.1a5.2 5.2 0 1 0 10.4 0a5.2 5.2 0 1 0 -10.4 0M769.5 259.7a5.2 5.2 0 1 0 10.4 0a5.2 5.2 0 1 0 -10.4 0M796.5 258.7a5.2 5.2 0 1 0 10.4 0a5.2 5.2 0 1 0 -10.4 0M856.6 213.8a5.2 5.2 0 1 0 10.4 0a5.2 5.2 0 1 0 -10.4 0M739.8 270.3a5.2 5.2 0 1 0 10.4 0a5.2 5.2 0 1 0 -10.4 0M804.8 242.6a5.2 5.2 0 1 0 10.4 0a5.2 5.2 0 1 0 -10.4 0M797.3 256.9a5.2 5.2 0 1 0 10.4 0a5.2 5.2 0 1 0 -10.4 0M857.6 214.6a5.2 5.2 0 1 0 10.4 0a5.2 5.2 0 1 0 -10.4 0M691.7 316.1a5.2 5.2 0 1 0 10.4 0a5.2 5.2 0 1 0 -10.4 0M698.2 323.2a5.2 5.2 0 1 0 10.4 0a5.2 5.2 0 1 0 -10.4 0M702.9 324.6a5.2 5.2 0 1 0 10.4 0a5.2 5.2 0 1 0 -10.4 0M706.7 326.2a5.2 5.2 0 1 0 10.4 0a5.2 5.2 0 1 0 -10.4 0M713.7 325.7a5.2 5.2 0 1 0 10.4 0a5.2 5.2 0 1 0 -10.4 0M718 323.8a5.2 5.2 0 1 0 10.4 0a5.2 5.2 0 1 0 -10.4 0M726.4 322.4a5.2 5.2 0 1 0 10.4 0a5.2 5.2 0 1 0 -10.4 0M729.9 322.9a5.2 5.2 0 1 0 10.4 0a5.2 5.2 0 1 0 -10.4 0M736.3 322a5.2 5.2 0 1 0 10.4 0a5.2 5.2 0 1 0 -10.4 0M741.1 321.7a5.2 5.2 0 1 0 10.4 0a5.2 5.2 0 1 0 -10.4 0M751.2 321.4a5.2 5.2 0 1 0 10.4 0a5.2 5.2 0 1 0 -10.4 0M754.3 318.6a5.2 5.2 0 1 0 10.4 0a5.2 5.2 0 1 0 -10.4 0M762.7 315.9a5.2 5.2 0 1 0 10.4 0a5.2 5.2 0 1 0 -10.4 0M764.6 315.9a5.2 5.2 0 1 0 10.4 0a5.2 5.2 0 1 0 -10.4 0M771.1 313.4a5.2 5.2 0 1 0 10.4 0a5.2 5.2 0 1 0 -10.4 0M778.5 309.6a5.2 5.2 0 1 0 10.4 0a5.2 5.2 0 1 0 -10.4 0M782.8 311a5.2 5.2 0 1 0 10.4 0a5.2 5.2 0 1 0 -10.4 0M789.2 310.8a5.2 5.2 0 1 0 10.4 0a5.2 5.2 0 1 0 -10.4 0M794.9 310.8a5.2 5.2 0 1 0 10.4 0a5.2 5.2 0 1 0 -10.4 0M801.6 308.5a5.2 5.2 0 1 0 10.4 0a5.2 5.2 0 1 0 -10.4 0M807.2 308.1a5.2 5.2 0 1 0 10.4 0a5.2 5.2 0 1 0 -10.4 0M815.1 306.9a5.2 5.2 0 1 0 10.4 0a5.2 5.2 0 1 0 -10.4 0M818.3 307.6a5.2 5.2 0 1 0 10.4 0a5.2 5.2 0 1 0 -10.4 0M826.2 305.6a5.2 5.2 0 1 0 10.4 0a5.2 5.2 0 1 0 -10.4 0M831.5 304.5a5.2 5.2 0 1 0 10.4 0a5.2 5.2 0 1 0 -10.4 0M834.6 304a5.2 5.2 0 1 0 10.4 0a5.2 5.2 0 1 0 -10.4 0M842 298.5a5.2 5.2 0 1 0 10.4 0a5.2 5.2 0 1 0 -10.4 0M847.7 294.5a5.2 5.2 0 1 0 10.4 0a5.2 5.2 0 1 0 -10.4 0M850.5 294.1a5.2 5.2 0 1 0 10.4 0a5.2 5.2 0 1 0 -10.4 0M855.2 292.6a5.2 5.2 0 1 0 10.4 0a5.2 5.2 0 1 0 -10.4 0M861.6 292.5a5.2 5.2 0 1 0 10.4 0a5.2 5.2 0 1 0 -10.4 0M866.1 293.2a5.2 5.2 0 1 0 10.4 0a5.2 5.2 0 1 0 -10.4 0M875.1 295.8a5.2 5.2 0 1 0 10.4 0a5.2 5.2 0 1 0 -10.4 0M878.9 296.1a5.2 5.2 0 1 0 10.4 0a5.2 5.2 0 1 0 -10.4 0M887.2 295.9a5.2 5.2 0 1 0 10.4 0a5.2 5.2 0 1 0 -10.4 0M891.6 298.1a5.2 5.2 0 1 0 10.4 0a5.2 5.2 0 1 0 -10.4 0M896.3 296.5a5.2 5.2 0 1 0 10.4 0a5.2 5.2 0 1 0 -10.4 0M901.5 294.3a5.2 5.2 0 1 0 10.4 0a5.2 5.2 0 1 0 -10.4 0M908.8 289.7a5.2 5.2 0 1 0 10.4 0a5.2 5.2 0 1 0 -10.4 0M914.4 290a5.2 5.2 0 1 0 10.4 0a5.2 5.2 0 1 0 -10.4 0M922.8 289.7a5.2 5.2 0 1 0 10.4 0a5.2 5.2 0 1 0 -10.4 0M927.2 290.1a5.2 5.2 0 1 0 10.4 0a5.2 5.2 0 1 0 -10.4 0M932.5 288.2a5.2 5.2 0 1 0 10.4 0a5.2 5.2 0 1 0 -10.4 0M936.7 287.9a5.2 5.2 0 1 0 10.4 0a5.2 5.2 0 1 0 -10.4 0M946.3 286.6a5.2 5.2 0 1 0 10.4 0a5.2 5.2 0 1 0 -10.4 0M947.9 284.5a5.2 5.2 0 1 0 10.4 0a5.2 5.2 0 1 0 -10.4 0M956.3 277.8a5.2 5.2 0 1 0 10.4 0a5.2 5.2 0 1 0 -10.4 0M957.4 275.5a5.2 5.2 0 1 0 10.4 0a5.2 5.2 0 1 0 -10.4 0M964.6 273.1a5.2 5.2 0 1 0 10.4 0a5.2 5.2 0 1 0 -10.4 0M971.3 272a5.2 5.2 0 1 0 10.4 0a5.2 5.2 0 1 0 -10.4 0M974.9 273.4a5.2 5.2 0 1 0 10.4 0a5.2 5.2 0 1 0 -10.4 0M979.7 273.6a5.2 5.2 0 1 0 10.4 0a5.2 5.2 0 1 0 -10.4 0M982.2 269.2a5.2 5.2 0 1 0 10.4 0a5.2 5.2 0 1 0 -10.4 0M983 265a5.2 5.2 0 1 0 10.4 0a5.2 5.2 0 1 0 -10.4 0M989.9 260.7a5.2 5.2 0 1 0 10.4 0a5.2 5.2 0 1 0 -10.4 0M994.2 252.8a5.2 5.2 0 1 0 10.4 0a5.2 5.2 0 1 0 -10.4 0M996.8 252.5a5.2 5.2 0 1 0 10.4 0a5.2 5.2 0 1 0 -10.4 0M1001.9 247.3a5.2 5.2 0 1 0 10.4 0a5.2 5.2 0 1 0 -10.4 0M1008.6 244.7a5.2 5.2 0 1 0 10.4 0a5.2 5.2 0 1 0 -10.4 0M1014.8 240.4a5.2 5.2 0 1 0 10.4 0a5.2 5.2 0 1 0 -10.4 0M1019 242.6a5.2 5.2 0 1 0 10.4 0a5.2 5.2 0 1 0 -10.4 0M1021.3 237.6a5.2 5.2 0 1 0 10.4 0a5.2 5.2 0 1 0 -10.4 0M1021.8 232.1a5.2 5.2 0 1 0 10.4 0a5.2 5.2 0 1 0 -10.4 0M1025.8 225a5.2 5.2 0 1 0 10.4 0a5.2 5.2 0 1 0 -10.4 0M1030.4 223.2a5.2 5.2 0 1 0 10.4 0a5.2 5.2 0 1 0 -10.4 0M1034.6 220.7a5.2 5.2 0 1 0 10.4 0a5.2 5.2 0 1 0 -10.4 0M1039 214.1a5.2 5.2 0 1 0 10.4 0a5.2 5.2 0 1 0 -10.4 0M1044.6 211.5a5.2 5.2 0 1 0 10.4 0a5.2 5.2 0 1 0 -10.4 0M1045.7 207.4a5.2 5.2 0 1 0 10.4 0a5.2 5.2 0 1 0 -10.4 0M1053.3 206.7a5.2 5.2 0 1 0 10.4 0a5.2 5.2 0 1 0 -10.4 0M1060.3 209.2a5.2 5.2 0 1 0 10.4 0a5.2 5.2 0 1 0 -10.4 0M1064.3 209.1a5.2 5.2 0 1 0 10.4 0a5.2 5.2 0 1 0 -10.4 0M1071.4 206.8a5.2 5.2 0 1 0 10.4 0a5.2 5.2 0 1 0 -10.4 0M1075.6 203.3a5.2 5.2 0 1 0 10.4 0a5.2 5.2 0 1 0 -10.4 0M1078.8 200.3a5.2 5.2 0 1 0 10.4 0a5.2 5.2 0 1 0 -10.4 0M1082.8 193.6a5.2 5.2 0 1 0 10.4 0a5.2 5.2 0 1 0 -10.4 0M1082.8 190.9a5.2 5.2 0 1 0 10.4 0a5.2 5.2 0 1 0 -10.4 0M1084.2 183.3a5.2 5.2 0 1 0 10.4 0a5.2 5.2 0 1 0 -10.4 0M1090.4 177.8a5.2 5.2 0 1 0 10.4 0a5.2 5.2 0 1 0 -10.4 0M1093.4 179.6a5.2 5.2 0 1 0 10.4 0a5.2 5.2 0 1 0 -10.4 0M1098.2 184.4a5.2 5.2 0 1 0 10.4 0a5.2 5.2 0 1 0 -10.4 0M1103 189.4a5.2 5.2 0 1 0 10.4 0a5.2 5.2 0 1 0 -10.4 0M1107.5 189.1a5.2 5.2 0 1 0 10.4 0a5.2 5.2 0 1 0 -10.4 0M1111 184.5a5.2 5.2 0 1 0 10.4 0a5.2 5.2 0 1 0 -10.4 0M1117.6 179.3a5.2 5.2 0 1 0 10.4 0a5.2 5.2 0 1 0 -10.4 0M1119.5 176.4a5.2 5.2 0 1 0 10.4 0a5.2 5.2 0 1 0 -10.4 0M1122.9 172.6a5.2 5.2 0 1 0 10.4 0a5.2 5.2 0 1 0 -10.4 0M1124.9 165.5a5.2 5.2 0 1 0 10.4 0a5.2 5.2 0 1 0 -10.4 0M1124.8 158.8a5.2 5.2 0 1 0 10.4 0a5.2 5.2 0 1 0 -10.4 0M1127.1 154.7a5.2 5.2 0 1 0 10.4 0a5.2 5.2 0 1 0 -10.4 0M1127.9 149.1a5.2 5.2 0 1 0 10.4 0a5.2 5.2 0 1 0 -10.4 0M1131.3 143.5a5.2 5.2 0 1 0 10.4 0a5.2 5.2 0 1 0 -10.4 0M1138.8 144.4a5.2 5.2 0 1 0 10.4 0a5.2 5.2 0 1 0 -10.4 0M1141 151.6a5.2 5.2 0 1 0 10.4 0a5.2 5.2 0 1 0 -10.4 0M1140.6 156.4a5.2 5.2 0 1 0 10.4 0a5.2 5.2 0 1 0 -10.4 0M1145.1 161.7a5.2 5.2 0 1 0 10.4 0a5.2 5.2 0 1 0 -10.4 0M1149.9 166.6a5.2 5.2 0 1 0 10.4 0a5.2 5.2 0 1 0 -10.4 0M1152.8 169.3a5.2 5.2 0 1 0 10.4 0a5.2 5.2 0 1 0 -10.4 0M1151.5 176.4a5.2 5.2 0 1 0 10.4 0a5.2 5.2 0 1 0 -10.4 0M1153 182.1a5.2 5.2 0 1 0 10.4 0a5.2 5.2 0 1 0 -10.4 0M1152.1 186.7a5.2 5.2 0 1 0 10.4 0a5.2 5.2 0 1 0 -10.4 0M1151.6 192.6a5.2 5.2 0 1 0 10.4 0a5.2 5.2 0 1 0 -10.4 0M1153.7 199.4a5.2 5.2 0 1 0 10.4 0a5.2 5.2 0 1 0 -10.4 0M1153.7 204.8a5.2 5.2 0 1 0 10.4 0a5.2 5.2 0 1 0 -10.4 0M1152.5 213.1a5.2 5.2 0 1 0 10.4 0a5.2 5.2 0 1 0 -10.4 0M1154.8 213.1a5.2 5.2 0 1 0 10.4 0a5.2 5.2 0 1 0 -10.4 0M1156.5 208.1a5.2 5.2 0 1 0 10.4 0a5.2 5.2 0 1 0 -10.4 0M1161 203.8a5.2 5.2 0 1 0 10.4 0a5.2 5.2 0 1 0 -10.4 0M1165.1 204.3a5.2 5.2 0 1 0 10.4 0a5.2 5.2 0 1 0 -10.4 0M1169.6 210.1a5.2 5.2 0 1 0 10.4 0a5.2 5.2 0 1 0 -10.4 0M1172.9 212a5.2 5.2 0 1 0 10.4 0a5.2 5.2 0 1 0 -10.4 0M1174.3 207.5a5.2 5.2 0 1 0 10.4 0a5.2 5.2 0 1 0 -10.4 0M1175.9 201.8a5.2 5.2 0 1 0 10.4 0a5.2 5.2 0 1 0 -10.4 0M1176.8 195a5.2 5.2 0 1 0 10.4 0a5.2 5.2 0 1 0 -10.4 0M1176.4 187.6a5.2 5.2 0 1 0 10.4 0a5.2 5.2 0 1 0 -10.4 0M1175.3 183.7a5.2 5.2 0 1 0 10.4 0a5.2 5.2 0 1 0 -10.4 0M1174.3 175.8a5.2 5.2 0 1 0 10.4 0a5.2 5.2 0 1 0 -10.4 0M1178 169.9a5.2 5.2 0 1 0 10.4 0a5.2 5.2 0 1 0 -10.4 0M1179.9 166.3a5.2 5.2 0 1 0 10.4 0a5.2 5.2 0 1 0 -10.4 0M1187.6 163.7a5.2 5.2 0 1 0 10.4 0a5.2 5.2 0 1 0 -10.4 0M1191 167.5a5.2 5.2 0 1 0 10.4 0a5.2 5.2 0 1 0 -10.4 0M1193.2 165.9a5.2 5.2 0 1 0 10.4 0a5.2 5.2 0 1 0 -10.4 0M1196.1 160.7a5.2 5.2 0 1 0 10.4 0a5.2 5.2 0 1 0 -10.4 0M1198.1 158a5.2 5.2 0 1 0 10.4 0a5.2 5.2 0 1 0 -10.4 0M1200.4 151.4a5.2 5.2 0 1 0 10.4 0a5.2 5.2 0 1 0 -10.4 0M1202.4 144.8a5.2 5.2 0 1 0 10.4 0a5.2 5.2 0 1 0 -10.4 0M1206.7 141a5.2 5.2 0 1 0 10.4 0a5.2 5.2 0 1 0 -10.4 0M1207.1 132.8a5.2 5.2 0 1 0 10.4 0a5.2 5.2 0 1 0 -10.4 0M1208.7 129.4a5.2 5.2 0 1 0 10.4 0a5.2 5.2 0 1 0 -10.4 0M1210.4 122.4a5.2 5.2 0 1 0 10.4 0a5.2 5.2 0 1 0 -10.4 0M1210.1 114.5a5.2 5.2 0 1 0 10.4 0a5.2 5.2 0 1 0 -10.4 0M1203.8 115.9a5.2 5.2 0 1 0 10.4 0a5.2 5.2 0 1 0 -10.4 0M1198.4 120a5.2 5.2 0 1 0 10.4 0a5.2 5.2 0 1 0 -10.4 0M1194.8 123a5.2 5.2 0 1 0 10.4 0a5.2 5.2 0 1 0 -10.4 0M1190.9 127.2a5.2 5.2 0 1 0 10.4 0a5.2 5.2 0 1 0 -10.4 0M1190 129.9a5.2 5.2 0 1 0 10.4 0a5.2 5.2 0 1 0 -10.4 0M1187 138.1a5.2 5.2 0 1 0 10.4 0a5.2 5.2 0 1 0 -10.4 0M1183.1 142.3a5.2 5.2 0 1 0 10.4 0a5.2 5.2 0 1 0 -10.4 0M1180.9 147.1a5.2 5.2 0 1 0 10.4 0a5.2 5.2 0 1 0 -10.4 0M1175 149.2a5.2 5.2 0 1 0 10.4 0a5.2 5.2 0 1 0 -10.4 0M1170.9 145.2a5.2 5.2 0 1 0 10.4 0a5.2 5.2 0 1 0 -10.4 0M1168.8 139.1a5.2 5.2 0 1 0 10.4 0a5.2 5.2 0 1 0 -10.4 0M1168 132.7a5.2 5.2 0 1 0 10.4 0a5.2 5.2 0 1 0 -10.4 0M1167.4 125a5.2 5.2 0 1 0 10.4 0a5.2 5.2 0 1 0 -10.4 0M1166.3 118.8a5.2 5.2 0 1 0 10.4 0a5.2 5.2 0 1 0 -10.4 0M1164.1 111.9a5.2 5.2 0 1 0 10.4 0a5.2 5.2 0 1 0 -10.4 0M1164.3 110.7a5.2 5.2 0 1 0 10.4 0a5.2 5.2 0 1 0 -10.4 0M1158.4 103.9a5.2 5.2 0 1 0 10.4 0a5.2 5.2 0 1 0 -10.4 0M1156.3 106.3a5.2 5.2 0 1 0 10.4 0a5.2 5.2 0 1 0 -10.4 0M1152 111.8a5.2 5.2 0 1 0 10.4 0a5.2 5.2 0 1 0 -10.4 0M1144.6 113.9a5.2 5.2 0 1 0 10.4 0a5.2 5.2 0 1 0 -10.4 0M1137.2 115.7a5.2 5.2 0 1 0 10.4 0a5.2 5.2 0 1 0 -10.4 0M1133.5 115.1a5.2 5.2 0 1 0 10.4 0a5.2 5.2 0 1 0 -10.4 0M1125.6 115.7a5.2 5.2 0 1 0 10.4 0a5.2 5.2 0 1 0 -10.4 0M1123.5 120a5.2 5.2 0 1 0 10.4 0a5.2 5.2 0 1 0 -10.4 0M1123.8 125.8a5.2 5.2 0 1 0 10.4 0a5.2 5.2 0 1 0 -10.4 0M1121 131.3a5.2 5.2 0 1 0 10.4 0a5.2 5.2 0 1 0 -10.4 0M1117.1 134.6a5.2 5.2 0 1 0 10.4 0a5.2 5.2 0 1 0 -10.4 0M1110.9 132.8a5.2 5.2 0 1 0 10.4 0a5.2 5.2 0 1 0 -10.4 0M1104.9 134.8a5.2 5.2 0 1 0 10.4 0a5.2 5.2 0 1 0 -10.4 0M1099.6 137.3a5.2 5.2 0 1 0 10.4 0a5.2 5.2 0 1 0 -10.4 0M1096.2 139.2a5.2 5.2 0 1 0 10.4 0a5.2 5.2 0 1 0 -10.4 0M1091.2 143.5a5.2 5.2 0 1 0 10.4 0a5.2 5.2 0 1 0 -10.4 0M1083.7 144.9a5.2 5.2 0 1 0 10.4 0a5.2 5.2 0 1 0 -10.4 0M1078.4 147.9a5.2 5.2 0 1 0 10.4 0a5.2 5.2 0 1 0 -10.4 0M1072.5 149.7a5.2 5.2 0 1 0 10.4 0a5.2 5.2 0 1 0 -10.4 0M1065.2 149.7a5.2 5.2 0 1 0 10.4 0a5.2 5.2 0 1 0 -10.4 0M1063.5 146.4a5.2 5.2 0 1 0 10.4 0a5.2 5.2 0 1 0 -10.4 0M1059.9 147.3a5.2 5.2 0 1 0 10.4 0a5.2 5.2 0 1 0 -10.4 0M1058 150.4a5.2 5.2 0 1 0 10.4 0a5.2 5.2 0 1 0 -10.4 0M1055.8 156.4a5.2 5.2 0 1 0 10.4 0a5.2 5.2 0 1 0 -10.4 0M1048.7 160.8a5.2 5.2 0 1 0 10.4 0a5.2 5.2 0 1 0 -10.4 0M1044.2 161.8a5.2 5.2 0 1 0 10.4 0a5.2 5.2 0 1 0 -10.4 0M1036.3 164.6a5.2 5.2 0 1 0 10.4 0a5.2 5.2 0 1 0 -10.4 0M1031.4 165.2a5.2 5.2 0 1 0 10.4 0a5.2 5.2 0 1 0 -10.4 0M1025.7 170.2a5.2 5.2 0 1 0 10.4 0a5.2 5.2 0 1 0 -10.4 0M1022.1 170.8a5.2 5.2 0 1 0 10.4 0a5.2 5.2 0 1 0 -10.4 0M1015.8 176.2a5.2 5.2 0 1 0 10.4 0a5.2 5.2 0 1 0 -10.4 0M1012.8 179.1a5.2 5.2 0 1 0 10.4 0a5.2 5.2 0 1 0 -10.4 0M1007.3 183.3a5.2 5.2 0 1 0 10.4 0a5.2 5.2 0 1 0 -10.4 0M1003.5 184.3a5.2 5.2 0 1 0 10.4 0a5.2 5.2 0 1 0 -10.4 0M996 188.7a5.2 5.2 0 1 0 10.4 0a5.2 5.2 0 1 0 -10.4 0M993 189.9a5.2 5.2 0 1 0 10.4 0a5.2 5.2 0 1 0 -10.4 0M984.9 194.7a5.2 5.2 0 1 0 10.4 0a5.2 5.2 0 1 0 -10.4 0M982.8 198.5a5.2 5.2 0 1 0 10.4 0a5.2 5.2 0 1 0 -10.4 0M978.6 204.9a5.2 5.2 0 1 0 10.4 0a5.2 5.2 0 1 0 -10.4 0M972.7 204.7a5.2 5.2 0 1 0 10.4 0a5.2 5.2 0 1 0 -10.4 0M970.9 207.6a5.2 5.2 0 1 0 10.4 0a5.2 5.2 0 1 0 -10.4 0M965.2 212a5.2 5.2 0 1 0 10.4 0a5.2 5.2 0 1 0 -10.4 0M960.1 216.7a5.2 5.2 0 1 0 10.4 0a5.2 5.2 0 1 0 -10.4 0M953.8 216.7a5.2 5.2 0 1 0 10.4 0a5.2 5.2 0 1 0 -10.4 0M948.8 214.4a5.2 5.2 0 1 0 10.4 0a5.2 5.2 0 1 0 -10.4 0M943.8 212.3a5.2 5.2 0 1 0 10.4 0a5.2 5.2 0 1 0 -10.4 0M935.9 215.6a5.2 5.2 0 1 0 10.4 0a5.2 5.2 0 1 0 -10.4 0M930.8 217.9a5.2 5.2 0 1 0 10.4 0a5.2 5.2 0 1 0 -10.4 0M928.1 217.9a5.2 5.2 0 1 0 10.4 0a5.2 5.2 0 1 0 -10.4 0M921.2 220.8a5.2 5.2 0 1 0 10.4 0a5.2 5.2 0 1 0 -10.4 0M911.5 218.1a5.2 5.2 0 1 0 10.4 0a5.2 5.2 0 1 0 -10.4 0M909.2 216.4a5.2 5.2 0 1 0 10.4 0a5.2 5.2 0 1 0 -10.4 0M902.3 216.6a5.2 5.2 0 1 0 10.4 0a5.2 5.2 0 1 0 -10.4 0M899.6 212.3a5.2 5.2 0 1 0 10.4 0a5.2 5.2 0 1 0 -10.4 0M894.6 209a5.2 5.2 0 1 0 10.4 0a5.2 5.2 0 1 0 -10.4 0M890.8 203.7a5.2 5.2 0 1 0 10.4 0a5.2 5.2 0 1 0 -10.4 0M886.3 198.3a5.2 5.2 0 1 0 10.4 0a5.2 5.2 0 1 0 -10.4 0M883.6 196a5.2 5.2 0 1 0 10.4 0a5.2 5.2 0 1 0 -10.4 0M883 200a5.2 5.2 0 1 0 10.4 0a5.2 5.2 0 1 0 -10.4 0M877.1 206.9a5.2 5.2 0 1 0 10.4 0a5.2 5.2 0 1 0 -10.4 0M875.7 208.9a5.2 5.2 0 1 0 10.4 0a5.2 5.2 0 1 0 -10.4 0M870.1 211a5.2 5.2 0 1 0 10.4 0a5.2 5.2 0 1 0 -10.4 0M864.7 216.6a5.2 5.2 0 1 0 10.4 0a5.2 5.2 0 1 0 -10.4 0M860.8 221.3a5.2 5.2 0 1 0 10.4 0a5.2 5.2 0 1 0 -10.4 0M857 226.1a5.2 5.2 0 1 0 10.4 0a5.2 5.2 0 1 0 -10.4 0M852.1 227.6a5.2 5.2 0 1 0 10.4 0a5.2 5.2 0 1 0 -10.4 0M847.1 230a5.2 5.2 0 1 0 10.4 0a5.2 5.2 0 1 0 -10.4 0M842.5 233.3a5.2 5.2 0 1 0 10.4 0a5.2 5.2 0 1 0 -10.4 0M837.8 236.8a5.2 5.2 0 1 0 10.4 0a5.2 5.2 0 1 0 -10.4 0M834.2 242.1a5.2 5.2 0 1 0 10.4 0a5.2 5.2 0 1 0 -10.4 0M830 245.5a5.2 5.2 0 1 0 10.4 0a5.2 5.2 0 1 0 -10.4 0M824.3 250.3a5.2 5.2 0 1 0 10.4 0a5.2 5.2 0 1 0 -10.4 0M822 253.5a5.2 5.2 0 1 0 10.4 0a5.2 5.2 0 1 0 -10.4 0M816.9 254.6a5.2 5.2 0 1 0 10.4 0a5.2 5.2 0 1 0 -10.4 0M810.4 255.5a5.2 5.2 0 1 0 10.4 0a5.2 5.2 0 1 0 -10.4 0M804.5 257.5a5.2 5.2 0 1 0 10.4 0a5.2 5.2 0 1 0 -10.4 0M800 261.7a5.2 5.2 0 1 0 10.4 0a5.2 5.2 0 1 0 -10.4 0M794.9 262.6a5.2 5.2 0 1 0 10.4 0a5.2 5.2 0 1 0 -10.4 0M790.9 263a5.2 5.2 0 1 0 10.4 0a5.2 5.2 0 1 0 -10.4 0M786.5 265.9a5.2 5.2 0 1 0 10.4 0a5.2 5.2 0 1 0 -10.4 0M780.5 268.2a5.2 5.2 0 1 0 10.4 0a5.2 5.2 0 1 0 -10.4 0M773.5 268.7a5.2 5.2 0 1 0 10.4 0a5.2 5.2 0 1 0 -10.4 0M768.1 268.7a5.2 5.2 0 1 0 10.4 0a5.2 5.2 0 1 0 -10.4 0M763.4 271a5.2 5.2 0 1 0 10.4 0a5.2 5.2 0 1 0 -10.4 0M757.5 271.7a5.2 5.2 0 1 0 10.4 0a5.2 5.2 0 1 0 -10.4 0M750.8 271.6a5.2 5.2 0 1 0 10.4 0a5.2 5.2 0 1 0 -10.4 0M744 272.5a5.2 5.2 0 1 0 10.4 0a5.2 5.2 0 1 0 -10.4 0M740.1 276.3a5.2 5.2 0 1 0 10.4 0a5.2 5.2 0 1 0 -10.4 0M736.8 279a5.2 5.2 0 1 0 10.4 0a5.2 5.2 0 1 0 -10.4 0M731.4 284.4a5.2 5.2 0 1 0 10.4 0a5.2 5.2 0 1 0 -10.4 0M724.5 287.6a5.2 5.2 0 1 0 10.4 0a5.2 5.2 0 1 0 -10.4 0M720.1 289.6a5.2 5.2 0 1 0 10.4 0a5.2 5.2 0 1 0 -10.4 0M713.3 292.7a5.2 5.2 0 1 0 10.4 0a5.2 5.2 0 1 0 -10.4 0M712.5 295.4a5.2 5.2 0 1 0 10.4 0a5.2 5.2 0 1 0 -10.4 0M705.2 299.1a5.2 5.2 0 1 0 10.4 0a5.2 5.2 0 1 0 -10.4 0M701.9 302.7a5.2 5.2 0 1 0 10.4 0a5.2 5.2 0 1 0 -10.4 0M698.2 307.6a5.2 5.2 0 1 0 10.4 0a5.2 5.2 0 1 0 -10.4 0M695.7 311.2a5.2 5.2 0 1 0 10.4 0a5.2 5.2 0 1 0 -10.4 0M1280.2 180.1a5.2 5.2 0 1 0 10.4 0a5.2 5.2 0 1 0 -10.4 0M1279.9 182.7a5.2 5.2 0 1 0 10.4 0a5.2 5.2 0 1 0 -10.4 0M1276.8 188.2a5.2 5.2 0 1 0 10.4 0a5.2 5.2 0 1 0 -10.4 0M1277.7 194.2a5.2 5.2 0 1 0 10.4 0a5.2 5.2 0 1 0 -10.4 0M1280.1 201.9a5.2 5.2 0 1 0 10.4 0a5.2 5.2 0 1 0 -10.4 0M1283.2 207.3a5.2 5.2 0 1 0 10.4 0a5.2 5.2 0 1 0 -10.4 0M1286.2 211.3a5.2 5.2 0 1 0 10.4 0a5.2 5.2 0 1 0 -10.4 0M1287.9 204.4a5.2 5.2 0 1 0 10.4 0a5.2 5.2 0 1 0 -10.4 0M1289 198.2a5.2 5.2 0 1 0 10.4 0a5.2 5.2 0 1 0 -10.4 0M1287.7 192.4a5.2 5.2 0 1 0 10.4 0a5.2 5.2 0 1 0 -10.4 0M1285.6 185.7a5.2 5.2 0 1 0 10.4 0a5.2 5.2 0 1 0 -10.4 0M1284.9 180.1a5.2 5.2 0 1 0 10.4 0a5.2 5.2 0 1 0 -10.4 0M1298.8 137.4a5.2 5.2 0 1 0 10.4 0a5.2 5.2 0 1 0 -10.4 0M1297.4 147.3a5.2 5.2 0 1 0 10.4 0a5.2 5.2 0 1 0 -10.4 0M1297 149.9a5.2 5.2 0 1 0 10.4 0a5.2 5.2 0 1 0 -10.4 0M1296.6 156.1a5.2 5.2 0 1 0 10.4 0a5.2 5.2 0 1 0 -10.4 0M1297.3 164a5.2 5.2 0 1 0 10.4 0a5.2 5.2 0 1 0 -10.4 0M1298.3 169a5.2 5.2 0 1 0 10.4 0a5.2 5.2 0 1 0 -10.4 0M1300.3 176.1a5.2 5.2 0 1 0 10.4 0a5.2 5.2 0 1 0 -10.4 0M1302.2 182.5a5.2 5.2 0 1 0 10.4 0a5.2 5.2 0 1 0 -10.4 0M1303.5 190a5.2 5.2 0 1 0 10.4 0a5.2 5.2 0 1 0 -10.4 0M1304.1 193.2a5.2 5.2 0 1 0 10.4 0a5.2 5.2 0 1 0 -10.4 0M1303.7 199.4a5.2 5.2 0 1 0 10.4 0a5.2 5.2 0 1 0 -10.4 0M1307 205.5a5.2 5.2 0 1 0 10.4 0a5.2 5.2 0 1 0 -10.4 0M1309.5 208.4a5.2 5.2 0 1 0 10.4 0a5.2 5.2 0 1 0 -10.4 0M1310 202a5.2 5.2 0 1 0 10.4 0a5.2 5.2 0 1 0 -10.4 0M1309.5 194.1a5.2 5.2 0 1 0 10.4 0a5.2 5.2 0 1 0 -10.4 0M1310.4 188.1a5.2 5.2 0 1 0 10.4 0a5.2 5.2 0 1 0 -10.4 0M1309.7 181.3a5.2 5.2 0 1 0 10.4 0a5.2 5.2 0 1 0 -10.4 0M1309.4 177a5.2 5.2 0 1 0 10.4 0a5.2 5.2 0 1 0 -10.4 0M1308.6 169.6a5.2 5.2 0 1 0 10.4 0a5.2 5.2 0 1 0 -10.4 0M1307.6 162.6a5.2 5.2 0 1 0 10.4 0a5.2 5.2 0 1 0 -10.4 0M1306 158.1a5.2 5.2 0 1 0 10.4 0a5.2 5.2 0 1 0 -10.4 0M1300.1 153.8a5.2 5.2 0 1 0 10.4 0a5.2 5.2 0 1 0 -10.4 0M1299.6 148.7a5.2 5.2 0 1 0 10.4 0a5.2 5.2 0 1 0 -10.4 0M1300 143.4a5.2 5.2 0 1 0 10.4 0a5.2 5.2 0 1 0 -10.4 0M1322.7 294.9a5.2 5.2 0 1 0 10.4 0a5.2 5.2 0 1 0 -10.4 0M1322.8 289.8a5.2 5.2 0 1 0 10.4 0a5.2 5.2 0 1 0 -10.4 0M1323.9 284.1a5.2 5.2 0 1 0 10.4 0a5.2 5.2 0 1 0 -10.4 0M1324.4 278.4a5.2 5.2 0 1 0 10.4 0a5.2 5.2 0 1 0 -10.4 0M1325.4 270a5.2 5.2 0 1 0 10.4 0a5.2 5.2 0 1 0 -10.4 0M1328.1 266a5.2 5.2 0 1 0 10.4 0a5.2 5.2 0 1 0 -10.4 0M1330.9 261.6a5.2 5.2 0 1 0 10.4 0a5.2 5.2 0 1 0 -10.4 0M1333.8 254.5a5.2 5.2 0 1 0 10.4 0a5.2 5.2 0 1 0 -10.4 0M1333.8 249a5.2 5.2 0 1 0 10.4 0a5.2 5.2 0 1 0 -10.4 0M1334.1 243.1a5.2 5.2 0 1 0 10.4 0a5.2 5.2 0 1 0 -10.4 0M1336.6 235.7a5.2 5.2 0 1 0 10.4 0a5.2 5.2 0 1 0 -10.4 0M1339.5 230.3a5.2 5.2 0 1 0 10.4 0a5.2 5.2 0 1 0 -10.4 0M1341.4 227.9a5.2 5.2 0 1 0 10.4 0a5.2 5.2 0 1 0 -10.4 0M1342.9 219a5.2 5.2 0 1 0 10.4 0a5.2 5.2 0 1 0 -10.4 0M1342.1 214.8a5.2 5.2 0 1 0 10.4 0a5.2 5.2 0 1 0 -10.4 0M1343.1 206.2a5.2 5.2 0 1 0 10.4 0a5.2 5.2 0 1 0 -10.4 0M1343 201.1a5.2 5.2 0 1 0 10.4 0a5.2 5.2 0 1 0 -10.4 0M1341.1 196.2a5.2 5.2 0 1 0 10.4 0a5.2 5.2 0 1 0 -10.4 0M1341.7 191.2a5.2 5.2 0 1 0 10.4 0a5.2 5.2 0 1 0 -10.4 0M1339.7 184.3a5.2 5.2 0 1 0 10.4 0a5.2 5.2 0 1 0 -10.4 0M1338 177.9a5.2 5.2 0 1 0 10.4 0a5.2 5.2 0 1 0 -10.4 0M1335 172.6a5.2 5.2 0 1 0 10.4 0a5.2 5.2 0 1 0 -10.4 0M1331.2 173.5a5.2 5.2 0 1 0 10.4 0a5.2 5.2 0 1 0 -10.4 0M1325 178.7a5.2 5.2 0 1 0 10.4 0a5.2 5.2 0 1 0 -10.4 0M1326.5 183.8a5.2 5.2 0 1 0 10.4 0a5.2 5.2 0 1 0 -10.4 0M1325.4 191.9a5.2 5.2 0 1 0 10.4 0a5.2 5.2 0 1 0 -10.4 0M1325.7 197.1a5.2 5.2 0 1 0 10.4 0a5.2 5.2 0 1 0 -10.4 0M1325.2 201.5a5.2 5.2 0 1 0 10.4 0a5.2 5.2 0 1 0 -10.4 0M1325.5 209.5a5.2 5.2 0 1 0 10.4 0a5.2 5.2 0 1 0 -10.4 0M1325.2 212.1a5.2 5.2 0 1 0 10.4 0a5.2 5.2 0 1 0 -10.4 0M1325.5 219.6a5.2 5.2 0 1 0 10.4 0a5.2 5.2 0 1 0 -10.4 0M1321.5 226.6a5.2 5.2 0 1 0 10.4 0a5.2 5.2 0 1 0 -10.4 0M1320 232.5a5.2 5.2 0 1 0 10.4 0a5.2 5.2 0 1 0 -10.4 0M1317.9 239.2a5.2 5.2 0 1 0 10.4 0a5.2 5.2 0 1 0 -10.4 0M1317.8 241.5a5.2 5.2 0 1 0 10.4 0a5.2 5.2 0 1 0 -10.4 0M1315.7 247.2a5.2 5.2 0 1 0 10.4 0a5.2 5.2 0 1 0 -10.4 0M1316.1 257.5a5.2 5.2 0 1 0 10.4 0a5.2 5.2 0 1 0 -10.4 0M1318.3 259.4a5.2 5.2 0 1 0 10.4 0a5.2 5.2 0 1 0 -10.4 0M1318.6 265.4a5.2 5.2 0 1 0 10.4 0a5.2 5.2 0 1 0 -10.4 0M1317.9 273.6a5.2 5.2 0 1 0 10.4 0a5.2 5.2 0 1 0 -10.4 0M1319.5 281.7a5.2 5.2 0 1 0 10.4 0a5.2 5.2 0 1 0 -10.4 0M1318.8 287a5.2 5.2 0 1 0 10.4 0a5.2 5.2 0 1 0 -10.4 0M1320.6 293.6a5.2 5.2 0 1 0 10.4 0a5.2 5.2 0 1 0 -10.4 0" fill="none" stroke="#1f77b4" stroke-width="2.7"/>
<path d="M676 836L684 820L695 798L710 775L722 755L737 740L745 720L757 700L772 665L790 642L802 620L812 600L850 560L889 515L897.5 490L900 470L907.5 456L912 470L917.5 487.5L921 465L926 450L931 433L935 445L940 455L950 462.5L955 464L962.5 472.5L970 462.5L976 470L977.5 450L982.5 437.5L991 430L995 405L1002.5 397.5L1005 372.5L1011 360L1016 350L1020 342L1025 350L1027.5 355L1033 340L1039 329L1045 333L1050 335L1052.5 319L1059.4 305.6L1066 316L1072.5 322.5L1073.8 292L1081.2 277L1088.8 292.5L1096.9 307.5L1097.5 330L1098.3 357L1100 357L1100.6 300L1101.2 262L1108.5 247L1115.6 262L1116.5 300L1117 345L1120 345L1121 300L1123 206L1130.6 191.2L1138 206L1141 240L1142.5 330L1143.8 380L1146 397.5L1150 402.5L1157.5 422.5L1165 435L1173.8 420L1181 435L1181.5 400L1182 372.5L1188 358L1195 372.5L1196 390L1197.5 410L1201 400L1205 392L1210 396L1216 400L1217 430L1217 530L1217 646L1217 700L1217 850L1192 850L1192 700L900 690L884 690L877 694L866 706L842.5 716L822.5 731L807.5 745L797.5 752.5L782.5 760L788 772L765 780L752.5 785L750 805L738 822L722 835L712 848L700 850L690 852L680 848zM1277.5 700L1277 560L1277.5 320L1279.5 270L1286 258L1294 272.5L1295 300L1296 320L1297.5 370L1299 350L1305.5 337L1313.8 355L1316 410L1317 417L1319.5 362.5L1326.8 347L1333.8 362.5L1336 380L1340 405L1345 430L1350 455L1351 505L1352.5 555L1351 642L1350 700zM1181 700L1181 386L1182 370L1188 357.5L1195 372.5L1195 700z" fill="#ff7f0e" stroke="#ff7f0e" stroke-width="1" stroke-linejoin="round"/>
<path d="M1083 406L1090 406L1093 427L1095 452L1097.5 477L1097 510L1097 530L1087 540L1075 575L1035 575L1025 560L1015 530L1021 515L1024 510L1025 492L1040 483L1040 460L1042.5 455L1056 453L1057 465L1062.5 492.5L1076 492.5L1076.2 460L1076.2 427.5L1081 418L1080 409zM1132.5 404L1142 400L1143 488L1133 488zM1290.5 466L1298 464L1299 518L1291 520zM1121.5 545L1131 545L1131 560L1127 566L1121.5 560zM1178 538L1183 538L1184 572L1179 566z" fill="#fff"/>
<path d="M555 976.2l5 10h-10zM557.5 968.8l5 10h-10zM562.5 971.2l5 10h-10zM566.2 965l5 10h-10zM568.8 968.8l5 10h-10zM578.8 966.2l5 10h-10zM582.5 971.2l5 10h-10zM576.2 951.2l5 10h-10zM580 953.8l5 10h-10zM584.5 944.5l5 10h-10zM598.2 925l5 10h-10zM596.2 962.5l5 10h-10zM603.8 963.8l5 10h-10zM606.2 966.2l5 10h-10zM610 967.5l5 10h-10zM620 942.5l5 10h-10zM622.5 948.8l5 10h-10zM625 952.5l5 10h-10zM622 957.5l5 10h-10zM630 930l5 10h-10zM633.8 932.5l5 10h-10zM640 933.8l5 10h-10zM638.8 916.2l5 10h-10zM646.2 915l5 10h-10zM651.2 906.2l5 10h-10zM615 908.8l5 10h-10zM622.5 901.2l5 10h-10zM628.8 892.5l5 10h-10zM632.5 886.2l5 10h-10zM640 901.2l5 10h-10zM637.5 881.2l5 10h-10zM643.8 882.5l5 10h-10zM638.8 870l5 10h-10zM648.8 858.8l5 10h-10zM655 870l5 10h-10zM650 865l5 10h-10zM658.8 903.8l5 10h-10zM663.8 895l5 10h-10zM667.5 900l5 10h-10zM672.5 892.5l5 10h-10zM677.5 887.5l5 10h-10zM676.2 880l5 10h-10zM665 875l5 10h-10zM670 872.5l5 10h-10zM675 867.5l5 10h-10zM682.5 870l5 10h-10zM667.5 860l5 10h-10zM680 855l5 10h-10zM686.2 858.8l5 10h-10zM660 837.5l5 10h-10zM663.8 845l5 10h-10zM667.5 850l5 10h-10zM656.2 845l5 10h-10zM670 835l5 10h-10zM675 830l5 10h-10zM682.5 825l5 10h-10zM680 840l5 10h-10zM690 845l5 10h-10zM695 850l5 10h-10zM700 845l5 10h-10zM710 845l5 10h-10zM695 835l5 10h-10zM690 825l5 10h-10zM687.5 815l5 10h-10zM695 805l5 10h-10zM697.5 795l5 10h-10zM705 835l5 10h-10zM715 830l5 10h-10zM720 832.5l5 10h-10zM725 825l5 10h-10zM732.5 822.5l5 10h-10zM740 822.5l5 10h-10zM737.5 812.5l5 10h-10zM745 805l5 10h-10zM750 802.5l5 10h-10zM770 770l5 10h-10zM780 767.5l5 10h-10zM787.5 770l5 10h-10zM785 760l5 10h-10zM792.5 750l5 10h-10zM797.5 746.2l5 10h-10zM765 775l5 10h-10zM781.2 757.5l5 10h-10zM1347 801l5 10h-10zM1347 859l5 10h-10zM1282.5 876l5 10h-10zM1347 943l5 10h-10zM1314 764l5 10h-10zM1195 884l5 10h-10zM1214 944l5 10h-10zM1196 862.5l5 10h-10zM1195 851l5 10h-10zM1217.5 807.5l5 10h-10zM862.5 697.5l5 10h-10zM871 681l5 10h-10zM881 694l5 10h-10zM1108 191l5 10h-10zM1205 372l5 10h-10zM1205 381.5l5 10h-10zM931 418.8l5 10h-10zM1020 338l5 10h-10zM1020 345l5 10h-10zM1016 353l5 10h-10zM1012 361l5 10h-10zM1033 472l5 10h-10zM1033 480l5 10h-10zM1033 487l5 10h-10zM1068 465l5 10h-10zM1070 475l5 10h-10zM1069 485l5 10h-10zM1060 453l5 10h-10zM1045 455l5 10h-10zM1050 450l5 10h-10zM1086 407l5 10h-10zM1127 543l5 10h-10zM1137.5 397l5 10h-10zM1137.5 406l5 10h-10zM1137.5 415l5 10h-10zM1137.5 424l5 10h-10zM1137.5 433l5 10h-10zM1137.5 442l5 10h-10zM1137.5 451l5 10h-10zM1137.5 460l5 10h-10zM1137.5 469l5 10h-10zM1137.5 478l5 10h-10zM1134 401l5 10h-10zM1134 419l5 10h-10zM1134 437l5 10h-10zM1134 455l5 10h-10zM1134 473l5 10h-10zM1294 462l5 10h-10zM1294 470l5 10h-10zM1294 478l5 10h-10zM1294 486l5 10h-10zM1294 494l5 10h-10zM1294 502l5 10h-10zM1289 468l5 10h-10zM1289 478l5 10h-10zM1289 488l5 10h-10zM1289 498l5 10h-10zM1289 508l5 10h-10zM684.1 832.9l5 10h-10zM684.1 838.5l5 10h-10zM694 839.2l5 10h-10zM700.7 839.1l5 10h-10zM706.4 837.1l5 10h-10zM712.1 832.7l5 10h-10zM716 827.9l5 10h-10zM722.2 821.8l5 10h-10zM727.1 819.1l5 10h-10zM733.4 812.3l5 10h-10zM736.5 809.9l5 10h-10zM741.2 801.3l5 10h-10zM745 794.5l5 10h-10zM744.7 790.9l5 10h-10zM746.2 783.1l5 10h-10zM749.7 774.3l5 10h-10zM751.6 773.2l5 10h-10zM761.5 770.7l5 10h-10zM765.9 768.9l5 10h-10zM775.3 764.3l5 10h-10zM779 761.5l5 10h-10zM775.9 753.4l5 10h-10zM779.6 749.1l5 10h-10zM786.9 745.7l5 10h-10zM792.1 743.3l5 10h-10zM795.8 741l5 10h-10zM803.7 734l5 10h-10zM809.5 729.5l5 10h-10zM814.2 726.6l5 10h-10zM818.3 721.4l5 10h-10zM822.2 717.2l5 10h-10zM829.9 712.5l5 10h-10zM834.8 708.2l5 10h-10zM840.2 705.4l5 10h-10zM846.1 703.3l5 10h-10zM852.7 699.6l5 10h-10zM859.4 695.6l5 10h-10zM867.6 690.7l5 10h-10zM870 687.4l5 10h-10zM876.2 683.3l5 10h-10zM883.9 678.3l5 10h-10zM886.1 678.1l5 10h-10zM893 678.8l5 10h-10zM904.1 679.7l5 10h-10zM910.5 679.3l5 10h-10zM915.5 680.2l5 10h-10zM922.8 679.8l5 10h-10zM932.9 679.6l5 10h-10zM936.8 680.9l5 10h-10zM946.2 679.4l5 10h-10zM950.3 681.2l5 10h-10zM961 679.9l5 10h-10zM967.3 681.3l5 10h-10zM973.8 680.5l5 10h-10zM981.6 681.8l5 10h-10zM986 682.2l5 10h-10zM991.7 681.4l5 10h-10zM999.1 681.4l5 10h-10zM1005.9 682.7l5 10h-10zM1013.1 681.9l5 10h-10zM1020.6 682.2l5 10h-10zM1031.3 683.9l5 10h-10zM1034.1 682.5l5 10h-10zM1045.2 683.9l5 10h-10zM1049.2 684.5l5 10h-10zM1056.9 683.3l5 10h-10zM1061.7 684.7l5 10h-10zM1070.2 685.3l5 10h-10zM1076.6 684.1l5 10h-10zM1084.4 684.7l5 10h-10zM1090.3 684.9l5 10h-10zM1099.7 686.5l5 10h-10zM1104.7 686l5 10h-10zM1111.5 685.5l5 10h-10zM1118.1 685.9l5 10h-10zM1129.8 687.4l5 10h-10zM1131.6 687.4l5 10h-10zM1139.3 686.5l5 10h-10zM1148.8 687.9l5 10h-10zM1153.4 686.4l5 10h-10zM1163.2 687.1l5 10h-10zM1169.3 687.3l5 10h-10zM1175.3 687.5l5 10h-10zM1184.3 687.8l5 10h-10zM1187.2 688.8l5 10h-10zM1195.9 689.8l5 10h-10zM1198.7 698l5 10h-10zM1197.7 703.4l5 10h-10zM1198.1 712.3l5 10h-10zM1198.9 715.7l5 10h-10zM1199 726.3l5 10h-10zM1199.1 729.8l5 10h-10zM1197.8 739.9l5 10h-10zM1198 746.7l5 10h-10zM1198.5 751.4l5 10h-10zM1198.2 760.1l5 10h-10zM1198.7 766l5 10h-10zM1197.9 775.9l5 10h-10zM1198.8 779.6l5 10h-10zM1199.2 789.5l5 10h-10zM1198.4 795.1l5 10h-10zM1199.2 799.4l5 10h-10zM1197.5 807.2l5 10h-10zM1197.4 816.5l5 10h-10zM1197.7 822.9l5 10h-10zM1198.5 830.5l5 10h-10zM1197.5 838.6l5 10h-10zM1203.6 837.9l5 10h-10zM1209.8 434.5l5 10h-10zM1211.5 425.9l5 10h-10zM1211.5 418.2l5 10h-10zM1210.6 411l5 10h-10zM1210.2 404.6l5 10h-10zM1207.7 396.8l5 10h-10zM1205.7 399.6l5 10h-10zM1203.1 408.9l5 10h-10zM1195.4 410.8l5 10h-10zM1192.6 406.8l5 10h-10zM1191.5 399.9l5 10h-10zM1191.3 395.1l5 10h-10zM1189 387.5l5 10h-10zM1190 379.9l5 10h-10zM1188.7 370.4l5 10h-10zM1188.3 370.1l5 10h-10zM1187.5 376.9l5 10h-10zM1187.7 386.4l5 10h-10zM1186.9 392.4l5 10h-10zM1187.3 400.6l5 10h-10zM1187.3 404.6l5 10h-10zM1187.9 412.8l5 10h-10zM1187.5 419.5l5 10h-10zM1187.4 428.6l5 10h-10zM1185.7 433.3l5 10h-10zM1181.8 435.5l5 10h-10zM1174.9 433.3l5 10h-10zM1171.1 433l5 10h-10zM1167.5 435.8l5 10h-10zM1161.3 434.5l5 10h-10zM1156.9 428.7l5 10h-10zM1152.3 420.6l5 10h-10zM1150 415.3l5 10h-10zM1147.3 408.8l5 10h-10zM1145.6 402.6l5 10h-10zM1143.6 399.2l5 10h-10zM1140.3 391.9l5 10h-10zM1138.8 385.3l5 10h-10zM1138.5 376.1l5 10h-10zM1137.8 369.5l5 10h-10zM1137.9 363.4l5 10h-10zM1136.4 353.7l5 10h-10zM1136.2 350.1l5 10h-10zM1136.8 341.7l5 10h-10zM1136.2 334.2l5 10h-10zM1135.6 330l5 10h-10zM1135.6 320.6l5 10h-10zM1135.5 313.5l5 10h-10zM1135.6 305.2l5 10h-10zM1134.9 298.2l5 10h-10zM1134.9 291l5 10h-10zM1136.1 283.4l5 10h-10zM1135.9 278.9l5 10h-10zM1134.7 270.5l5 10h-10zM1134.6 264.4l5 10h-10zM1135.5 258.6l5 10h-10zM1135.1 248.5l5 10h-10zM1135.1 244l5 10h-10zM1133.9 234.9l5 10h-10zM1133.7 229.9l5 10h-10zM1133.9 223.1l5 10h-10zM1132.8 215.5l5 10h-10zM1133.2 209.5l5 10h-10zM1130.2 201.2l5 10h-10zM1129.2 204.1l5 10h-10zM1128.7 209.8l5 10h-10zM1129.4 217.1l5 10h-10zM1129.6 226.3l5 10h-10zM1129.3 234l5 10h-10zM1127.5 239.6l5 10h-10zM1128 247.7l5 10h-10zM1128.6 254.3l5 10h-10zM1127.7 262.9l5 10h-10zM1127.1 267.7l5 10h-10zM1128.1 275.2l5 10h-10zM1126.9 279.7l5 10h-10zM1127.2 287.4l5 10h-10zM1127.6 294.8l5 10h-10zM1127.2 305.1l5 10h-10zM1126.9 309.5l5 10h-10zM1125.8 317.2l5 10h-10zM1126.2 324.5l5 10h-10zM1126.7 331.8l5 10h-10zM1125.6 337.7l5 10h-10zM1125.9 344.2l5 10h-10zM1119.8 346.1l5 10h-10zM1111.8 342l5 10h-10zM1111.6 338.1l5 10h-10zM1110.9 328.2l5 10h-10zM1110.7 321l5 10h-10zM1110.8 317.2l5 10h-10zM1111.2 307.7l5 10h-10zM1109.3 300.8l5 10h-10zM1109.7 293.3l5 10h-10zM1110.2 285.6l5 10h-10zM1109 281.2l5 10h-10zM1109.1 273.5l5 10h-10zM1110 268.3l5 10h-10zM1108.9 260.6l5 10h-10zM1108.4 259.8l5 10h-10zM1108.2 265.8l5 10h-10zM1106.9 275.2l5 10h-10zM1107.7 280.9l5 10h-10zM1107.2 289l5 10h-10zM1107.5 295.7l5 10h-10zM1106.6 300.9l5 10h-10zM1106.3 306.9l5 10h-10zM1106.6 316.5l5 10h-10zM1106.5 322.4l5 10h-10zM1105.7 328l5 10h-10zM1106.9 338.6l5 10h-10zM1107.3 345.5l5 10h-10zM1106.3 349.6l5 10h-10zM1104.4 355.6l5 10h-10zM1095.2 357.5l5 10h-10zM1092.3 350.7l5 10h-10zM1091.1 346.2l5 10h-10zM1092.3 337.5l5 10h-10zM1091.7 334l5 10h-10zM1090.5 323.8l5 10h-10zM1091.5 316.3l5 10h-10zM1091.5 312l5 10h-10zM1090.8 304.3l5 10h-10zM1086 295.7l5 10h-10zM1084 292.1l5 10h-10zM1081.2 288.8l5 10h-10zM1079.8 293.2l5 10h-10zM1079.7 299.2l5 10h-10zM1078.5 308.6l5 10h-10zM1078 316l5 10h-10zM1076.8 321.8l5 10h-10zM1073.7 324.5l5 10h-10zM1064.5 318.1l5 10h-10zM1060.3 313.6l5 10h-10zM1058.1 318.3l5 10h-10zM1057.7 326.2l5 10h-10zM1056 331.7l5 10h-10zM1050.4 335.4l5 10h-10zM1044.4 335.5l5 10h-10zM1039.2 339.2l5 10h-10zM1036.3 345.7l5 10h-10zM1035.3 348.3l5 10h-10zM1031.4 356l5 10h-10zM1024.2 354.8l5 10h-10zM1021.2 349.3l5 10h-10zM1017.9 355.8l5 10h-10zM1015 361.6l5 10h-10zM1010.9 370.2l5 10h-10zM1010.2 376.3l5 10h-10zM1010.6 382.5l5 10h-10zM1009.9 388.6l5 10h-10zM1007.9 395.3l5 10h-10zM1002 401.5l5 10h-10zM999.2 409l5 10h-10zM998 415.7l5 10h-10zM997.9 421.4l5 10h-10zM996.1 429.8l5 10h-10zM992.8 433.1l5 10h-10zM987.9 437.5l5 10h-10zM985.4 444.6l5 10h-10zM982.4 454.4l5 10h-10zM982.3 457.6l5 10h-10zM982.5 464.1l5 10h-10zM978.4 470.8l5 10h-10zM970.2 468.8l5 10h-10zM967.2 473.2l5 10h-10zM961.9 473.4l5 10h-10zM954.6 468.4l5 10h-10zM951.1 465l5 10h-10zM942.7 458.7l5 10h-10zM937 456.4l5 10h-10zM932.3 451.1l5 10h-10zM930.2 450.4l5 10h-10zM929.4 456.9l5 10h-10zM926.1 461.3l5 10h-10zM924.9 472l5 10h-10zM925.2 476.4l5 10h-10zM924.6 483l5 10h-10zM918.2 489.7l5 10h-10zM913.4 486.8l5 10h-10zM910.7 480.1l5 10h-10zM907.8 475.3l5 10h-10zM905.6 468.9l5 10h-10zM905.9 473.6l5 10h-10zM904.2 482.9l5 10h-10zM902.5 489.1l5 10h-10zM899.5 495.3l5 10h-10zM898.4 501.9l5 10h-10zM895.9 507.5l5 10h-10zM892.4 514.4l5 10h-10zM889.4 519.3l5 10h-10zM885.1 524.1l5 10h-10zM879.8 529.8l5 10h-10zM874.4 537.4l5 10h-10zM867.7 543.2l5 10h-10zM865.4 548.3l5 10h-10zM860.7 552.3l5 10h-10zM857.4 557.5l5 10h-10zM850.6 563.5l5 10h-10zM846.4 568.5l5 10h-10zM841.1 573.3l5 10h-10zM836.4 577.2l5 10h-10zM833.7 582.3l5 10h-10zM827.2 587.1l5 10h-10zM822.2 591.6l5 10h-10zM816.7 599.3l5 10h-10zM813.9 603.9l5 10h-10zM811.7 608.6l5 10h-10zM807.8 618.6l5 10h-10zM806 622.6l5 10h-10zM801.7 627.8l5 10h-10zM796.8 637.7l5 10h-10zM795.5 640.3l5 10h-10zM791.1 646.4l5 10h-10zM785.6 650.9l5 10h-10zM782.6 656.6l5 10h-10zM777 663.3l5 10h-10zM774.3 670.7l5 10h-10zM772.4 677.5l5 10h-10zM770.4 681.9l5 10h-10zM765.9 688l5 10h-10zM764.3 696.1l5 10h-10zM758.8 703l5 10h-10zM756.4 708.5l5 10h-10zM752.3 713.6l5 10h-10zM749 719.9l5 10h-10zM747.4 726.1l5 10h-10zM744.9 731.1l5 10h-10zM740.4 741.6l5 10h-10zM738.2 743.4l5 10h-10zM731.4 748l5 10h-10zM728.3 752.3l5 10h-10zM722.4 761.5l5 10h-10zM719.5 766.9l5 10h-10zM715.4 773.1l5 10h-10zM713.2 777.8l5 10h-10zM707.3 785.6l5 10h-10zM703.3 791.2l5 10h-10zM701.5 795.1l5 10h-10zM698.4 800.5l5 10h-10zM693.6 810.3l5 10h-10zM692.3 812.7l5 10h-10zM688.3 818.2l5 10h-10zM685.1 826.5l5 10h-10zM678.2 841l5 10h-10zM688 847.7l5 10h-10zM659.4 873.4l5 10h-10zM646.5 863.5l5 10h-10zM664.1 871.1l5 10h-10zM664.6 874.3l5 10h-10zM655.7 846.2l5 10h-10zM685.6 858.3l5 10h-10zM653 854l5 10h-10zM649.4 871.1l5 10h-10zM657 840.2l5 10h-10zM669.1 872.7l5 10h-10zM649.7 860.6l5 10h-10zM675.9 847.3l5 10h-10zM674.8 872.2l5 10h-10zM652.6 872.2l5 10h-10zM661.6 866.2l5 10h-10zM649 863.7l5 10h-10zM660.4 874.3l5 10h-10zM654.1 866.9l5 10h-10zM670.3 834.4l5 10h-10zM659 872l5 10h-10zM650.7 860.8l5 10h-10zM648.9 863.8l5 10h-10zM670 827.5l5 10h-10zM661.2 849.8l5 10h-10zM652.9 877.1l5 10h-10zM664.5 853.3l5 10h-10zM681.3 858.9l5 10h-10zM672.6 852.8l5 10h-10zM664 839.5l5 10h-10zM665.1 877.4l5 10h-10zM663.2 843.4l5 10h-10zM676.5 874.7l5 10h-10zM655.3 856.4l5 10h-10zM662.6 835l5 10h-10zM681.7 839.8l5 10h-10zM678.8 852.8l5 10h-10zM658.9 877.4l5 10h-10zM691.2 850.6l5 10h-10zM654.1 857.5l5 10h-10zM684.6 843l5 10h-10zM1079.2 397.5l5 10h-10zM1075.5 403.7l5 10h-10zM1075.4 412.4l5 10h-10zM1070.7 422.5l5 10h-10zM1071.9 429.6l5 10h-10zM1070.4 437.5l5 10h-10zM1071.3 450.1l5 10h-10zM1072.2 456.1l5 10h-10zM1072.1 463.9l5 10h-10zM1072.1 476.7l5 10h-10zM1066.4 482.1l5 10h-10zM1066 473.8l5 10h-10zM1063.3 468.5l5 10h-10zM1063 459.8l5 10h-10zM1060 449.9l5 10h-10zM1054.7 443.1l5 10h-10zM1048.9 444.9l5 10h-10zM1041.4 444.9l5 10h-10zM1034.3 453.9l5 10h-10zM1034.6 460.9l5 10h-10zM1035.2 469.3l5 10h-10zM1031.9 476.7l5 10h-10zM1022.1 483.5l5 10h-10zM1020.3 490.2l5 10h-10zM1019.1 499.6l5 10h-10zM1015.6 507.8l5 10h-10zM1012.5 517.3l5 10h-10zM1009.8 524.8l5 10h-10zM1012.8 535.3l5 10h-10zM1017 542.1l5 10h-10zM1019.9 553.2l5 10h-10zM1022 558.9l5 10h-10zM1027.4 568.2l5 10h-10zM1033.5 575l5 10h-10zM1038.9 574.9l5 10h-10zM1051 574.7l5 10h-10zM1060.3 574.8l5 10h-10zM1068.3 576l5 10h-10zM1078.7 573.7l5 10h-10zM1081.1 569.3l5 10h-10zM1085.6 555.7l5 10h-10zM1085.5 552.1l5 10h-10zM1088.2 544l5 10h-10zM1094.1 534.2l5 10h-10zM1101.8 525l5 10h-10zM1101.8 517.7l5 10h-10zM1103 507.8l5 10h-10zM1101.5 502.4l5 10h-10zM1103.6 493.4l5 10h-10zM1101.8 482.9l5 10h-10zM1102.6 471.4l5 10h-10zM1100.5 464.2l5 10h-10zM1101.6 454.4l5 10h-10zM1099.2 446.3l5 10h-10zM1098.8 437l5 10h-10zM1098.8 428l5 10h-10zM1096.5 419l5 10h-10zM1095 409.6l5 10h-10zM1094.8 401.5l5 10h-10zM1089.6 396.9l5 10h-10z" fill="none" stroke="#ff7f0e" stroke-width="2.7"/>
<path d="M693 512L700 508L715 507L730 507L760 507L780 505L792 503L810 503L830 503L844 507L862.5 516L877.5 523L890 523L900 525L910 531L917.5 536L927 541L935 545L938 537L947.5 535L955 532L962 528L972.5 528L980 531L986 542L990 550L1002.5 552.5L1005 545L1022.5 547.5L1032.5 547.5L1033.8 570L1041 562.5L1050 556L1058.8 558.8L1065 573.8L1072.5 558.8L1080 548L1087 545L1087.5 528L1092.5 521L1100 519L1110 521L1117 529L1120 540L1120.5 557L1128 559L1132.5 548L1140 552L1147.5 570L1157.5 580L1160 561L1162.5 545L1170 548L1176 567.5L1183.8 587.5L1186 560L1192 562L1197.5 567.5L1202.5 565L1217.5 568.8L1219.4 582.5L1220 592.5L1221 600L1221 745L1216 820L1215 855L1200 855L1196 820L1195 855L1185 875L1182.5 830L1180 787.5L1170 780L1167.5 752.5L1163.8 822.5L1153.8 820L1152.5 780L1143.8 750L1142 745L1141 705L1140 760L1137.5 762.5L1122.5 755L1120 742.5L1112.5 765L1100 765L1098.5 765L1097.5 714L1096.5 772L1095 772.5L1065 777.5L1035 775L1030 757.5L1002.5 760L1000 742.5L980 733L976.5 736L975.5 712.5L974.5 742L970 742.5L925 742.5L924 718L921 701L905 696L880 691L875 676L857.5 668L842.5 665L843 640L842 622L830 618L815 612L800 600L790 602L775 590L760 580L742 572L726 561L710 553L693 546zM1277.5 550L1281 532L1286 528L1295 540L1298.8 565L1303.8 540L1310 522L1315 528L1320 540L1328.8 535L1335 511L1345 506L1350 515L1351 555L1352 600L1351 690L1346 700L1342.5 705L1340 742.5L1337.5 762.5L1337 780L1336 797L1332 802L1321 802L1317.5 790L1316.5 768L1306 760L1296 768L1295 797L1290 802L1282 802L1278.5 790L1277.5 700z" fill="#2ca02c" stroke="#2ca02c" stroke-width="1" stroke-linejoin="round"/>
<path d="M369.1 523.6h10.3v10.3h-10.3zM374.4 533.6h10.3v10.3h-10.3zM379.9 519.9h10.3v10.3h-10.3zM391.1 517.9h10.3v10.3h-10.3zM400.4 509.9h10.3v10.3h-10.3zM430.4 504.9h10.3v10.3h-10.3zM441.1 502.9h10.3v10.3h-10.3zM451.1 518.6h10.3v10.3h-10.3zM451.1 526.1h10.3v10.3h-10.3zM454.9 521.1h10.3v10.3h-10.3zM462.4 518.6h10.3v10.3h-10.3zM469.1 516.9h10.3v10.3h-10.3zM524.1 476.9h10.3v10.3h-10.3zM526.9 473.6h10.3v10.3h-10.3zM558.6 469.1h10.3v10.3h-10.3zM589.4 478.6h10.3v10.3h-10.3zM592.4 473.6h10.3v10.3h-10.3zM604.1 475.1h10.3v10.3h-10.3zM628.1 472.4h10.3v10.3h-10.3zM657.4 479.1h10.3v10.3h-10.3zM676.1 487.4h10.3v10.3h-10.3zM681.1 477.4h10.3v10.3h-10.3zM684.9 482.4h10.3v10.3h-10.3zM694.9 484.9h10.3v10.3h-10.3zM548.6 492.4h10.3v10.3h-10.3zM546.1 502.4h10.3v10.3h-10.3zM507.4 503.6h10.3v10.3h-10.3zM511.1 502.4h10.3v10.3h-10.3zM516.1 504.9h10.3v10.3h-10.3zM509.1 514.9h10.3v10.3h-10.3zM518.6 514.9h10.3v10.3h-10.3zM529.9 518.6h10.3v10.3h-10.3zM529.9 523.6h10.3v10.3h-10.3zM539.9 518.6h10.3v10.3h-10.3zM549.9 522.4h10.3v10.3h-10.3zM552.4 527.4h10.3v10.3h-10.3zM558.6 512.4h10.3v10.3h-10.3zM559.9 518.6h10.3v10.3h-10.3zM569.9 514.9h10.3v10.3h-10.3zM569.9 527.4h10.3v10.3h-10.3zM574.9 516.1h10.3v10.3h-10.3zM581.1 501.1h10.3v10.3h-10.3zM584.9 512.4h10.3v10.3h-10.3zM589.9 508.6h10.3v10.3h-10.3zM592.4 524.9h10.3v10.3h-10.3zM599.9 504.9h10.3v10.3h-10.3zM599.9 512.4h10.3v10.3h-10.3zM609.9 521.1h10.3v10.3h-10.3zM614.9 502.4h10.3v10.3h-10.3zM617.4 514.9h10.3v10.3h-10.3zM624.9 499.9h10.3v10.3h-10.3zM624.9 524.9h10.3v10.3h-10.3zM634.9 507.4h10.3v10.3h-10.3zM634.9 524.9h10.3v10.3h-10.3zM646.1 501.1h10.3v10.3h-10.3zM659.9 494.9h10.3v10.3h-10.3zM654.9 533.6h10.3v10.3h-10.3zM603.6 474.9h10.3v10.3h-10.3zM627.4 472.4h10.3v10.3h-10.3zM657.4 478.6h10.3v10.3h-10.3zM681.1 477.4h10.3v10.3h-10.3zM681.1 482.4h10.3v10.3h-10.3zM677.4 486.1h10.3v10.3h-10.3zM684.9 487.4h10.3v10.3h-10.3zM698.6 484.9h10.3v10.3h-10.3zM709.9 493.6h10.3v10.3h-10.3zM714.9 473.6h10.3v10.3h-10.3zM724.9 474.9h10.3v10.3h-10.3zM734.9 478.6h10.3v10.3h-10.3zM744.9 479.9h10.3v10.3h-10.3zM749.9 479.9h10.3v10.3h-10.3zM731.1 486.1h10.3v10.3h-10.3zM661.1 493.6h10.3v10.3h-10.3zM646.1 501.1h10.3v10.3h-10.3zM624.9 498.6h10.3v10.3h-10.3zM601.1 503.6h10.3v10.3h-10.3zM764.9 488.6h10.3v10.3h-10.3zM773.6 488.6h10.3v10.3h-10.3zM769.9 498.6h10.3v10.3h-10.3zM789.9 494.9h10.3v10.3h-10.3zM793.6 491.1h10.3v10.3h-10.3zM802.4 494.9h10.3v10.3h-10.3zM819.9 494.9h10.3v10.3h-10.3zM824.9 491.1h10.3v10.3h-10.3zM833.6 497.4h10.3v10.3h-10.3zM857.4 509.9h10.3v10.3h-10.3zM864.9 517.4h10.3v10.3h-10.3zM877.4 522.4h10.3v10.3h-10.3zM886.1 522.4h10.3v10.3h-10.3zM898.6 526.1h10.3v10.3h-10.3zM906.1 529.9h10.3v10.3h-10.3zM919.9 537.4h10.3v10.3h-10.3zM937.4 533.6h10.3v10.3h-10.3zM942.4 529.9h10.3v10.3h-10.3zM944.9 534.9h10.3v10.3h-10.3zM694.9 594.9h10.3v10.3h-10.3zM701.1 589.9h10.3v10.3h-10.3zM711.1 566.1h10.3v10.3h-10.3zM726.1 578.6h10.3v10.3h-10.3zM731.1 571.1h10.3v10.3h-10.3zM744.9 598.6h10.3v10.3h-10.3zM742.4 618.6h10.3v10.3h-10.3zM754.9 634.9h10.3v10.3h-10.3zM773.6 632.4h10.3v10.3h-10.3zM777.4 622.4h10.3v10.3h-10.3zM758.6 607.4h10.3v10.3h-10.3zM769.9 607.4h10.3v10.3h-10.3zM774.9 612.4h10.3v10.3h-10.3zM757.4 584.9h10.3v10.3h-10.3zM754.9 574.9h10.3v10.3h-10.3zM767.4 574.9h10.3v10.3h-10.3zM769.9 584.9h10.3v10.3h-10.3zM779.9 584.9h10.3v10.3h-10.3zM783.6 594.9h10.3v10.3h-10.3zM787.4 584.9h10.3v10.3h-10.3zM694.9 554.9h10.3v10.3h-10.3zM704.9 554.9h10.3v10.3h-10.3zM679.9 547.4h10.3v10.3h-10.3zM689.9 557.4h10.3v10.3h-10.3zM674.9 542.4h10.3v10.3h-10.3zM654.9 534.9h10.3v10.3h-10.3zM719.9 554.9h10.3v10.3h-10.3zM724.9 564.9h10.3v10.3h-10.3zM744.9 572.4h10.3v10.3h-10.3zM749.9 579.9h10.3v10.3h-10.3zM759.9 589.9h10.3v10.3h-10.3zM769.9 594.9h10.3v10.3h-10.3zM823.6 678.6h10.3v10.3h-10.3zM802.4 737.4h10.3v10.3h-10.3zM819.9 719.9h10.3v10.3h-10.3zM824.9 717.4h10.3v10.3h-10.3zM844.9 733.6h10.3v10.3h-10.3zM851.1 743.6h10.3v10.3h-10.3zM872.4 739.9h10.3v10.3h-10.3zM891.1 741.1h10.3v10.3h-10.3zM902.4 741.1h10.3v10.3h-10.3zM864.9 724.9h10.3v10.3h-10.3zM859.9 709.9h10.3v10.3h-10.3zM849.9 712.4h10.3v10.3h-10.3zM878.6 706.1h10.3v10.3h-10.3zM894.9 719.9h10.3v10.3h-10.3zM897.4 727.4h10.3v10.3h-10.3zM869.9 697.4h10.3v10.3h-10.3zM844.9 697.4h10.3v10.3h-10.3zM907.4 741.1h10.3v10.3h-10.3zM937.4 746.1h10.3v10.3h-10.3zM952.4 746.1h10.3v10.3h-10.3zM802.4 807.4h10.3v10.3h-10.3zM802.4 737.4h10.3v10.3h-10.3zM817.4 721.1h10.3v10.3h-10.3zM826.1 718.6h10.3v10.3h-10.3zM808.6 697.4h10.3v10.3h-10.3zM844.9 733.6h10.3v10.3h-10.3zM851.1 744.9h10.3v10.3h-10.3zM872.4 741.1h10.3v10.3h-10.3zM866.1 724.9h10.3v10.3h-10.3zM861.1 709.9h10.3v10.3h-10.3zM849.9 713.6h10.3v10.3h-10.3zM844.9 702.4h10.3v10.3h-10.3zM872.4 741.1h10.3v10.3h-10.3zM891.1 741.1h10.3v10.3h-10.3zM901.1 742.4h10.3v10.3h-10.3zM909.9 741.1h10.3v10.3h-10.3zM917.4 742.4h10.3v10.3h-10.3zM866.1 724.9h10.3v10.3h-10.3zM861.1 712.4h10.3v10.3h-10.3zM878.6 706.1h10.3v10.3h-10.3zM882.4 756.1h10.3v10.3h-10.3zM893.6 758.6h10.3v10.3h-10.3zM899.9 763.6h10.3v10.3h-10.3zM906.1 764.9h10.3v10.3h-10.3zM903.6 754.9h10.3v10.3h-10.3zM913.6 769.9h10.3v10.3h-10.3zM927.4 767.4h10.3v10.3h-10.3zM926.1 779.9h10.3v10.3h-10.3zM908.6 783.6h10.3v10.3h-10.3zM912.4 798.6h10.3v10.3h-10.3zM897.9 811.1h10.3v10.3h-10.3zM891.1 827.9h10.3v10.3h-10.3zM899.9 836.1h10.3v10.3h-10.3zM936.1 792.4h10.3v10.3h-10.3zM936.1 798.6h10.3v10.3h-10.3zM936.1 804.9h10.3v10.3h-10.3zM937.4 756.1h10.3v10.3h-10.3zM937.4 747.4h10.3v10.3h-10.3zM952.4 774.9h10.3v10.3h-10.3zM953.6 761.1h10.3v10.3h-10.3zM952.4 749.9h10.3v10.3h-10.3zM957.4 791.1h10.3v10.3h-10.3zM956.1 823.6h10.3v10.3h-10.3zM967.4 749.9h10.3v10.3h-10.3zM967.4 757.4h10.3v10.3h-10.3zM977.4 749.9h10.3v10.3h-10.3zM977.4 757.4h10.3v10.3h-10.3zM978.6 764.9h10.3v10.3h-10.3zM984.9 762.4h10.3v10.3h-10.3zM977.9 798.1h10.3v10.3h-10.3zM979.1 837.4h10.3v10.3h-10.3zM971.9 851.1h10.3v10.3h-10.3zM966.9 882.4h10.3v10.3h-10.3zM1002.4 754.9h10.3v10.3h-10.3zM1007.4 779.9h10.3v10.3h-10.3zM1019.9 776.1h10.3v10.3h-10.3zM1022.4 759.9h10.3v10.3h-10.3zM1019.1 798.1h10.3v10.3h-10.3zM1018.6 824.9h10.3v10.3h-10.3zM1019.9 827.4h10.3v10.3h-10.3zM1024.8 829.9h10.3v10.3h-10.3zM1017.9 836.1h10.3v10.3h-10.3zM1024.8 867.9h10.3v10.3h-10.3zM1017.9 883.1h10.3v10.3h-10.3zM1037.3 781.1h10.3v10.3h-10.3zM1037.8 800.4h10.3v10.3h-10.3zM1036.8 821.1h10.3v10.3h-10.3zM1036.1 899.1h10.3v10.3h-10.3zM1043.8 926.1h10.3v10.3h-10.3zM1054.8 799.9h10.3v10.3h-10.3zM1057.3 801.1h10.3v10.3h-10.3zM1059.8 803.6h10.3v10.3h-10.3zM1054.8 782.4h10.3v10.3h-10.3zM1069.8 791.1h10.3v10.3h-10.3zM1054.3 842.4h10.3v10.3h-10.3zM1061.1 838.6h10.3v10.3h-10.3zM1056.1 886.1h10.3v10.3h-10.3zM1074.8 812.4h10.3v10.3h-10.3zM1082.3 811.1h10.3v10.3h-10.3zM1086.1 812.4h10.3v10.3h-10.3zM1079.8 782.4h10.3v10.3h-10.3zM1084.8 784.9h10.3v10.3h-10.3zM1083.6 794.9h10.3v10.3h-10.3zM1081.1 799.9h10.3v10.3h-10.3zM1078.1 974.9h10.3v10.3h-10.3zM1101.1 772.4h10.3v10.3h-10.3zM1102.3 784.9h10.3v10.3h-10.3zM1101.1 797.4h10.3v10.3h-10.3zM1104.8 803.6h10.3v10.3h-10.3zM1101.8 826.9h10.3v10.3h-10.3zM1101.8 924.1h10.3v10.3h-10.3zM1106.8 938.1h10.3v10.3h-10.3zM1114.8 787.4h10.3v10.3h-10.3zM1123.6 774.9h10.3v10.3h-10.3zM1127.3 782.4h10.3v10.3h-10.3zM1126.1 792.4h10.3v10.3h-10.3zM1128.6 799.9h10.3v10.3h-10.3zM1128.6 819.9h10.3v10.3h-10.3zM1128.6 827.4h10.3v10.3h-10.3zM1128.6 836.1h10.3v10.3h-10.3zM1128.6 844.9h10.3v10.3h-10.3zM1137.3 784.9h10.3v10.3h-10.3zM1142.3 744.9h10.3v10.3h-10.3zM1143.6 757.4h10.3v10.3h-10.3zM1146.1 811.1h10.3v10.3h-10.3zM1149.8 824.9h10.3v10.3h-10.3zM1149.8 831.1h10.3v10.3h-10.3zM1151.1 856.9h10.3v10.3h-10.3zM1141.8 886.1h10.3v10.3h-10.3zM1144.8 894.9h10.3v10.3h-10.3zM1141.8 901.1h10.3v10.3h-10.3zM1152.8 971.1h10.3v10.3h-10.3zM1163.6 818.6h10.3v10.3h-10.3zM1169.8 784.9h10.3v10.3h-10.3zM1168.6 797.4h10.3v10.3h-10.3zM1171.1 807.4h10.3v10.3h-10.3zM1171.8 847.4h10.3v10.3h-10.3zM1171.8 853.6h10.3v10.3h-10.3zM1169.8 868.6h10.3v10.3h-10.3zM1169.1 889.9h10.3v10.3h-10.3zM1182.3 802.4h10.3v10.3h-10.3zM1182.3 809.9h10.3v10.3h-10.3zM1182.3 834.9h10.3v10.3h-10.3zM1182.3 847.4h10.3v10.3h-10.3zM1183.6 859.9h10.3v10.3h-10.3zM1183.6 868.6h10.3v10.3h-10.3zM1183.6 873.6h10.3v10.3h-10.3zM1182.8 934.9h10.3v10.3h-10.3zM1190.6 921.1h10.3v10.3h-10.3zM1201.1 847.4h10.3v10.3h-10.3zM1203.6 854.9h10.3v10.3h-10.3zM1203.6 864.9h10.3v10.3h-10.3zM1204.8 874.9h10.3v10.3h-10.3zM1208.6 879.9h10.3v10.3h-10.3zM1209.8 886.1h10.3v10.3h-10.3zM1199.8 902.4h10.3v10.3h-10.3zM1204.8 904.9h10.3v10.3h-10.3zM1209.8 841.1h10.3v10.3h-10.3zM1332.3 478.6h10.3v10.3h-10.3zM1335.8 484.9h10.3v10.3h-10.3zM1327.3 490.9h10.3v10.3h-10.3zM1334.8 494.9h10.3v10.3h-10.3zM1304.8 504.9h10.3v10.3h-10.3zM1307.3 513.6h10.3v10.3h-10.3zM1279.8 514.9h10.3v10.3h-10.3zM1282.8 521.9h10.3v10.3h-10.3zM823.6 637.4h10.3v10.3h-10.3zM824.2 679.2h10.3v10.3h-10.3zM834.9 640.9h10.3v10.3h-10.3zM834.9 665.9h10.3v10.3h-10.3zM1279.8 488.9h10.3v10.3h-10.3zM1305.8 488.9h10.3v10.3h-10.3zM1308.8 453.9h10.3v10.3h-10.3zM1307.3 431.9h10.3v10.3h-10.3zM1320.8 484.9h10.3v10.3h-10.3zM1332.3 440.4h10.3v10.3h-10.3zM1339.3 452.9h10.3v10.3h-10.3zM1342.3 779.4h10.3v10.3h-10.3zM1340.8 722.4h10.3v10.3h-10.3zM1342.3 732.4h10.3v10.3h-10.3zM1335.8 739.9h10.3v10.3h-10.3zM1298.8 817.4h10.3v10.3h-10.3zM1287.8 845.9h10.3v10.3h-10.3zM1283.8 857.4h10.3v10.3h-10.3zM1330.8 864.4h10.3v10.3h-10.3zM1279.3 924.4h10.3v10.3h-10.3zM1010.9 517.4h10.3v10.3h-10.3zM1096.1 479.2h10.3v10.3h-10.3zM1099.2 497.9h10.3v10.3h-10.3zM1079.8 507.4h10.3v10.3h-10.3zM1094.8 510.9h10.3v10.3h-10.3zM1103.6 513.6h10.3v10.3h-10.3zM1105.8 514.9h10.3v10.3h-10.3zM1114.8 525.9h10.3v10.3h-10.3zM1134.2 490.5h10.3v10.3h-10.3zM1129.2 511.1h10.3v10.3h-10.3zM1133.6 521.1h10.3v10.3h-10.3zM1138.6 532.9h10.3v10.3h-10.3zM1133.6 545.9h10.3v10.3h-10.3zM1123.6 555.9h10.3v10.3h-10.3zM1135.8 557.4h10.3v10.3h-10.3zM1153.6 518.6h10.3v10.3h-10.3zM1163.6 518.6h10.3v10.3h-10.3zM1163.6 532.4h10.3v10.3h-10.3zM1164.2 542.4h10.3v10.3h-10.3zM1164.2 549.9h10.3v10.3h-10.3zM1184.2 530.5h10.3v10.3h-10.3zM1186.1 548.6h10.3v10.3h-10.3zM1186.1 561.1h10.3v10.3h-10.3zM1184.8 570.9h10.3v10.3h-10.3zM1202.3 528.6h10.3v10.3h-10.3zM1202.8 535.9h10.3v10.3h-10.3zM1202.3 564.9h10.3v10.3h-10.3zM959.9 517.9h10.3v10.3h-10.3zM966.9 517.9h10.3v10.3h-10.3zM978.9 529.9h10.3v10.3h-10.3zM941.9 526.9h10.3v10.3h-10.3zM999.9 533.9h10.3v10.3h-10.3zM578.3 524.7h10.3v10.3h-10.3zM678.7 523.1h10.3v10.3h-10.3zM594.3 502.4h10.3v10.3h-10.3zM618.8 527.5h10.3v10.3h-10.3zM676.7 528.7h10.3v10.3h-10.3zM576.5 529.2h10.3v10.3h-10.3zM668.5 511.1h10.3v10.3h-10.3zM638.5 512.2h10.3v10.3h-10.3zM685.5 515.5h10.3v10.3h-10.3zM614.7 526.7h10.3v10.3h-10.3zM634.2 502.1h10.3v10.3h-10.3zM655.8 517.2h10.3v10.3h-10.3zM687.4 540.1h10.3v10.3h-10.3zM640.4 522.2h10.3v10.3h-10.3zM669.6 508.1h10.3v10.3h-10.3zM647.3 500.1h10.3v10.3h-10.3zM640.1 518.6h10.3v10.3h-10.3zM614.1 527.7h10.3v10.3h-10.3zM672.9 519.5h10.3v10.3h-10.3zM583.7 518.9h10.3v10.3h-10.3zM633 520.7h10.3v10.3h-10.3zM593.2 516h10.3v10.3h-10.3zM651.1 508.2h10.3v10.3h-10.3zM588 509.7h10.3v10.3h-10.3zM616.3 521.2h10.3v10.3h-10.3zM674.9 501.6h10.3v10.3h-10.3zM653.7 500.6h10.3v10.3h-10.3zM666 513.2h10.3v10.3h-10.3zM618.5 516.2h10.3v10.3h-10.3zM587.7 513.3h10.3v10.3h-10.3zM663.3 519.4h10.3v10.3h-10.3zM658.5 526.5h10.3v10.3h-10.3zM662.7 502h10.3v10.3h-10.3zM649.2 531.4h10.3v10.3h-10.3zM676.6 531.4h10.3v10.3h-10.3zM664.5 524.4h10.3v10.3h-10.3zM667.2 533.1h10.3v10.3h-10.3zM662.8 509.2h10.3v10.3h-10.3zM650.7 529.8h10.3v10.3h-10.3zM662.3 533.6h10.3v10.3h-10.3zM681 535h10.3v10.3h-10.3zM627.6 498.6h10.3v10.3h-10.3zM665.7 516.7h10.3v10.3h-10.3zM623.8 512.9h10.3v10.3h-10.3zM642.9 511h10.3v10.3h-10.3zM647.8 534.2h10.3v10.3h-10.3zM589 521.6h10.3v10.3h-10.3zM623.5 534.3h10.3v10.3h-10.3zM671.6 521h10.3v10.3h-10.3zM679.4 538.1h10.3v10.3h-10.3zM682.9 514.1h10.3v10.3h-10.3zM644.4 514.8h10.3v10.3h-10.3zM650.5 522.9h10.3v10.3h-10.3zM658.5 537.9h10.3v10.3h-10.3zM658.3 499.4h10.3v10.3h-10.3zM675 504.4h10.3v10.3h-10.3zM637.9 500h10.3v10.3h-10.3zM658 526.7h10.3v10.3h-10.3zM659.8 511h10.3v10.3h-10.3zM646.4 534.1h10.3v10.3h-10.3zM653.6 528.9h10.3v10.3h-10.3zM663.5 513.5h10.3v10.3h-10.3zM589 531.1h10.3v10.3h-10.3zM606.7 500.3h10.3v10.3h-10.3zM683.4 506.3h10.3v10.3h-10.3zM681.2 506.7h10.3v10.3h-10.3zM621.6 502.7h10.3v10.3h-10.3zM645 532.9h10.3v10.3h-10.3zM600.5 532.6h10.3v10.3h-10.3zM667.4 523.3h10.3v10.3h-10.3zM680.8 509.8h10.3v10.3h-10.3zM684 526.4h10.3v10.3h-10.3zM657.5 513.2h10.3v10.3h-10.3zM664.9 513.6h10.3v10.3h-10.3zM672.7 521.8h10.3v10.3h-10.3zM585.6 513.1h10.3v10.3h-10.3zM648.7 523.9h10.3v10.3h-10.3zM662.9 535.6h10.3v10.3h-10.3zM649.1 531.8h10.3v10.3h-10.3zM675.9 538.3h10.3v10.3h-10.3zM666.7 527h10.3v10.3h-10.3zM642.1 510.2h10.3v10.3h-10.3zM641 534.9h10.3v10.3h-10.3zM595 507.9h10.3v10.3h-10.3zM664.5 514h10.3v10.3h-10.3zM644.1 504.1h10.3v10.3h-10.3zM665.1 499.6h10.3v10.3h-10.3zM665.3 522h10.3v10.3h-10.3zM661.7 499.1h10.3v10.3h-10.3zM655.3 524.2h10.3v10.3h-10.3zM630.3 524.3h10.3v10.3h-10.3zM578.3 519.4h10.3v10.3h-10.3zM623.5 513.2h10.3v10.3h-10.3zM617.4 510.6h10.3v10.3h-10.3zM656.7 521.1h10.3v10.3h-10.3zM718.9 497.6h10.3v10.3h-10.3zM718.7 480.9h10.3v10.3h-10.3zM781.2 497.5h10.3v10.3h-10.3zM852.2 499.3h10.3v10.3h-10.3zM809.1 498.2h10.3v10.3h-10.3zM695.6 478.7h10.3v10.3h-10.3zM809 494.8h10.3v10.3h-10.3zM730.2 484.4h10.3v10.3h-10.3zM713 494.9h10.3v10.3h-10.3zM692.5 477.5h10.3v10.3h-10.3zM823.2 488.1h10.3v10.3h-10.3zM702.4 474.9h10.3v10.3h-10.3zM711.3 500.4h10.3v10.3h-10.3zM841.7 501.1h10.3v10.3h-10.3zM706.9 475h10.3v10.3h-10.3zM781.8 490.2h10.3v10.3h-10.3zM720.8 480.4h10.3v10.3h-10.3zM810.8 485.4h10.3v10.3h-10.3zM721.7 493.1h10.3v10.3h-10.3zM750 471.2h10.3v10.3h-10.3zM837.8 491.1h10.3v10.3h-10.3zM697.1 483.1h10.3v10.3h-10.3zM768.2 495.1h10.3v10.3h-10.3zM720.2 480.1h10.3v10.3h-10.3zM702.7 493.3h10.3v10.3h-10.3zM706.6 478.4h10.3v10.3h-10.3zM763.4 493.1h10.3v10.3h-10.3zM794.3 497.7h10.3v10.3h-10.3zM760.5 473.4h10.3v10.3h-10.3zM765.8 486.1h10.3v10.3h-10.3zM753.1 608.5h10.3v10.3h-10.3zM755 586.2h10.3v10.3h-10.3zM710 578.9h10.3v10.3h-10.3zM764.3 618.6h10.3v10.3h-10.3zM749.3 611.1h10.3v10.3h-10.3zM691.6 551.5h10.3v10.3h-10.3zM782.5 616.7h10.3v10.3h-10.3zM691.5 547.3h10.3v10.3h-10.3zM778.1 601.6h10.3v10.3h-10.3zM782.2 608.2h10.3v10.3h-10.3zM774.1 627.2h10.3v10.3h-10.3zM736.6 599.9h10.3v10.3h-10.3zM745.5 616.4h10.3v10.3h-10.3zM695.4 547.8h10.3v10.3h-10.3zM740.8 569.6h10.3v10.3h-10.3zM768.3 617.5h10.3v10.3h-10.3zM758.7 621h10.3v10.3h-10.3zM723.5 570.7h10.3v10.3h-10.3zM695.1 553.3h10.3v10.3h-10.3zM755 597.9h10.3v10.3h-10.3zM738.3 584.8h10.3v10.3h-10.3zM727.4 599.1h10.3v10.3h-10.3zM758.9 616.1h10.3v10.3h-10.3zM776.4 619.9h10.3v10.3h-10.3zM753.9 621h10.3v10.3h-10.3zM712.4 570.5h10.3v10.3h-10.3zM721.7 572.7h10.3v10.3h-10.3zM783 603h10.3v10.3h-10.3zM778.3 613h10.3v10.3h-10.3zM712.1 580.8h10.3v10.3h-10.3zM811.5 690.2h10.3v10.3h-10.3zM804.8 675.6h10.3v10.3h-10.3zM810.1 687.2h10.3v10.3h-10.3zM810.4 652.5h10.3v10.3h-10.3zM802.1 680.9h10.3v10.3h-10.3zM804.6 661.7h10.3v10.3h-10.3zM805.3 653h10.3v10.3h-10.3zM812.4 616.5h10.3v10.3h-10.3zM807.2 663.9h10.3v10.3h-10.3zM807.3 691.8h10.3v10.3h-10.3zM805.7 689.5h10.3v10.3h-10.3zM809.1 694.7h10.3v10.3h-10.3zM801.9 621.5h10.3v10.3h-10.3zM804.3 688.8h10.3v10.3h-10.3zM803 643.3h10.3v10.3h-10.3zM809.1 667.8h10.3v10.3h-10.3zM809.8 673.9h10.3v10.3h-10.3zM803.8 625.8h10.3v10.3h-10.3zM803.4 626h10.3v10.3h-10.3zM812.4 663.2h10.3v10.3h-10.3zM807.9 664.5h10.3v10.3h-10.3zM808 668.3h10.3v10.3h-10.3zM804.5 607.1h10.3v10.3h-10.3zM801.7 602.3h10.3v10.3h-10.3zM805.2 614.6h10.3v10.3h-10.3zM802.2 648.7h10.3v10.3h-10.3zM812.5 667.5h10.3v10.3h-10.3zM804.1 675.5h10.3v10.3h-10.3zM803 610.6h10.3v10.3h-10.3zM804.5 640.5h10.3v10.3h-10.3zM809.1 644h10.3v10.3h-10.3zM809.6 610h10.3v10.3h-10.3zM812 634.1h10.3v10.3h-10.3zM810.8 622.8h10.3v10.3h-10.3zM811.1 678.7h10.3v10.3h-10.3zM808.9 627.8h10.3v10.3h-10.3zM811.7 616.2h10.3v10.3h-10.3zM808.8 657.8h10.3v10.3h-10.3zM808.8 618.4h10.3v10.3h-10.3zM802.6 610.3h10.3v10.3h-10.3zM812.6 638h10.3v10.3h-10.3zM808.7 656.1h10.3v10.3h-10.3zM803.5 607.1h10.3v10.3h-10.3zM805.2 670.9h10.3v10.3h-10.3zM802.5 677.3h10.3v10.3h-10.3zM803.9 636.4h10.3v10.3h-10.3zM807.1 611.7h10.3v10.3h-10.3zM803.8 678.1h10.3v10.3h-10.3zM804.3 637.8h10.3v10.3h-10.3zM810 622.6h10.3v10.3h-10.3zM803.2 622.1h10.3v10.3h-10.3zM805.5 636.3h10.3v10.3h-10.3zM808.5 646.6h10.3v10.3h-10.3zM808.8 682h10.3v10.3h-10.3zM803.7 603.7h10.3v10.3h-10.3zM894.1 693.9h10.3v10.3h-10.3zM895.1 720.2h10.3v10.3h-10.3zM879 694h10.3v10.3h-10.3zM895.9 696.5h10.3v10.3h-10.3zM885 708.2h10.3v10.3h-10.3zM880.1 691.8h10.3v10.3h-10.3zM890.7 709.5h10.3v10.3h-10.3zM916.1 713.3h10.3v10.3h-10.3zM907.6 713.6h10.3v10.3h-10.3zM913.1 731.2h10.3v10.3h-10.3zM916.4 711.9h10.3v10.3h-10.3zM885.4 696.4h10.3v10.3h-10.3zM912.9 698.2h10.3v10.3h-10.3zM915.5 709.1h10.3v10.3h-10.3zM894.8 702.8h10.3v10.3h-10.3zM890.7 694.1h10.3v10.3h-10.3zM903.6 711.5h10.3v10.3h-10.3zM907.4 712.5h10.3v10.3h-10.3zM885.1 710.8h10.3v10.3h-10.3zM901.5 717.5h10.3v10.3h-10.3zM916.5 721.4h10.3v10.3h-10.3zM912.6 705h10.3v10.3h-10.3zM894.2 695h10.3v10.3h-10.3zM900.5 730.2h10.3v10.3h-10.3zM892.5 718.7h10.3v10.3h-10.3zM885.1 709.8h10.3v10.3h-10.3zM1281.9 821.1h10.3v10.3h-10.3zM1281.8 822.6h10.3v10.3h-10.3zM1282.6 797h10.3v10.3h-10.3zM1283.9 796.5h10.3v10.3h-10.3zM1284.8 804.9h10.3v10.3h-10.3zM1280.2 821.6h10.3v10.3h-10.3zM1280.8 803.3h10.3v10.3h-10.3zM1280.9 811.9h10.3v10.3h-10.3zM1279 802.2h10.3v10.3h-10.3zM1279.8 817.2h10.3v10.3h-10.3zM1278.9 809.9h10.3v10.3h-10.3zM1280.4 804.8h10.3v10.3h-10.3zM1282.2 813.3h10.3v10.3h-10.3zM1279.7 797.8h10.3v10.3h-10.3zM1279.6 821.5h10.3v10.3h-10.3zM1279.7 794.4h10.3v10.3h-10.3zM1282 809h10.3v10.3h-10.3zM1284.2 791.7h10.3v10.3h-10.3zM1280.3 795.4h10.3v10.3h-10.3zM1282.4 804.8h10.3v10.3h-10.3zM1321.1 819.2h10.3v10.3h-10.3zM1323.1 818.2h10.3v10.3h-10.3zM1325.5 798.7h10.3v10.3h-10.3zM1325.4 803.3h10.3v10.3h-10.3zM1318.3 820h10.3v10.3h-10.3zM1318.7 790.4h10.3v10.3h-10.3zM1320.2 799.4h10.3v10.3h-10.3zM1325.6 818.6h10.3v10.3h-10.3zM1321.2 807.3h10.3v10.3h-10.3zM1324.6 816.5h10.3v10.3h-10.3zM1323.1 806.8h10.3v10.3h-10.3zM1318.8 797.9h10.3v10.3h-10.3zM1323.1 809.2h10.3v10.3h-10.3zM1324.3 819.5h10.3v10.3h-10.3zM1325.5 796.2h10.3v10.3h-10.3zM1318.5 819.5h10.3v10.3h-10.3zM1322.4 795.8h10.3v10.3h-10.3zM1323.4 798.3h10.3v10.3h-10.3zM1319.7 801.9h10.3v10.3h-10.3zM1322 812.2h10.3v10.3h-10.3zM1297.4 802.6h10.3v10.3h-10.3zM1301.8 796.2h10.3v10.3h-10.3zM1302.2 804h10.3v10.3h-10.3zM1296.9 796.3h10.3v10.3h-10.3zM1302.3 801.9h10.3v10.3h-10.3zM1302 789.2h10.3v10.3h-10.3zM1304.5 803.7h10.3v10.3h-10.3zM1298.7 795.2h10.3v10.3h-10.3zM1304.5 789.8h10.3v10.3h-10.3zM1149 785.6h10.3v10.3h-10.3zM1176.2 793.5h10.3v10.3h-10.3zM1093.6 718.1h10.3v10.3h-10.3zM1174.7 801.6h10.3v10.3h-10.3zM1208.4 853.1h10.3v10.3h-10.3zM1142.3 770.1h10.3v10.3h-10.3zM969.8 734.6h10.3v10.3h-10.3zM1091.6 739.5h10.3v10.3h-10.3zM1134.1 714.3h10.3v10.3h-10.3zM1178.7 870.9h10.3v10.3h-10.3zM1061.5 779.9h10.3v10.3h-10.3zM1093.9 758.1h10.3v10.3h-10.3zM1178.4 827.2h10.3v10.3h-10.3zM1166 779.9h10.3v10.3h-10.3zM998.4 758.6h10.3v10.3h-10.3zM1175.3 828.8h10.3v10.3h-10.3zM1090.6 758.2h10.3v10.3h-10.3zM1093.7 743.6h10.3v10.3h-10.3zM1191.9 851.5h10.3v10.3h-10.3zM1179.4 875.3h10.3v10.3h-10.3zM1160.1 788.5h10.3v10.3h-10.3zM1162.6 769.5h10.3v10.3h-10.3zM1177.5 864.4h10.3v10.3h-10.3zM1091 741.3h10.3v10.3h-10.3zM1090.8 767.6h10.3v10.3h-10.3zM1179.5 838.6h10.3v10.3h-10.3zM1194.4 858.2h10.3v10.3h-10.3zM1148.9 798.4h10.3v10.3h-10.3zM1032.4 769.4h10.3v10.3h-10.3zM1111.8 751.3h10.3v10.3h-10.3zM1029.6 766.3h10.3v10.3h-10.3zM1191.4 825.4h10.3v10.3h-10.3zM1183.2 867.3h10.3v10.3h-10.3zM1190.9 834.5h10.3v10.3h-10.3zM1164.1 776.2h10.3v10.3h-10.3zM1089.6 766.9h10.3v10.3h-10.3zM1175.1 808.7h10.3v10.3h-10.3zM1092.5 737.8h10.3v10.3h-10.3zM1176.1 824.6h10.3v10.3h-10.3zM1162.9 769.4h10.3v10.3h-10.3zM1057.1 780.8h10.3v10.3h-10.3zM960.5 740h10.3v10.3h-10.3zM1161.5 777.7h10.3v10.3h-10.3zM1101.8 758.6h10.3v10.3h-10.3zM1134 736.1h10.3v10.3h-10.3zM984 733.2h10.3v10.3h-10.3zM1190 849.9h10.3v10.3h-10.3zM1152.9 821.6h10.3v10.3h-10.3zM1050.3 770.7h10.3v10.3h-10.3zM1147.9 797h10.3v10.3h-10.3zM1091.3 715.9h10.3v10.3h-10.3zM1137 720.3h10.3v10.3h-10.3zM1148.2 821.8h10.3v10.3h-10.3zM970.3 722.7h10.3v10.3h-10.3zM1137.2 733.2h10.3v10.3h-10.3zM1188.3 860h10.3v10.3h-10.3zM1159.7 773.3h10.3v10.3h-10.3zM1056.1 771.3h10.3v10.3h-10.3zM1146.2 801.1h10.3v10.3h-10.3zM1195 859.4h10.3v10.3h-10.3zM1184.3 856.9h10.3v10.3h-10.3zM1179.2 866h10.3v10.3h-10.3zM1177.5 860.1h10.3v10.3h-10.3zM1142 758.7h10.3v10.3h-10.3zM1175 780.8h10.3v10.3h-10.3zM1165.3 780.6h10.3v10.3h-10.3zM970.8 732.3h10.3v10.3h-10.3zM1106.8 763.9h10.3v10.3h-10.3zM1092.6 749.9h10.3v10.3h-10.3zM1179.3 826.8h10.3v10.3h-10.3zM1025.3 757.9h10.3v10.3h-10.3zM1164.6 786.3h10.3v10.3h-10.3zM1181.5 872.2h10.3v10.3h-10.3zM1179.6 850.2h10.3v10.3h-10.3zM1177.5 843.4h10.3v10.3h-10.3zM995.4 737.2h10.3v10.3h-10.3zM1063.7 783.3h10.3v10.3h-10.3zM965.1 748h10.3v10.3h-10.3zM1022.6 756h10.3v10.3h-10.3zM1147.8 810.7h10.3v10.3h-10.3zM1189.2 846.8h10.3v10.3h-10.3zM1147.3 784.1h10.3v10.3h-10.3zM1069.7 782.3h10.3v10.3h-10.3zM1030.3 773.6h10.3v10.3h-10.3zM1072.7 772.2h10.3v10.3h-10.3zM1092.2 735.8h10.3v10.3h-10.3zM1186.6 859.7h10.3v10.3h-10.3zM1021.3 763.3h10.3v10.3h-10.3zM998.7 753.5h10.3v10.3h-10.3zM970.7 735.4h10.3v10.3h-10.3zM1090.9 739.6h10.3v10.3h-10.3zM1133.3 759.3h10.3v10.3h-10.3zM1045.9 782.1h10.3v10.3h-10.3zM1175.7 809.4h10.3v10.3h-10.3zM1189.8 824.1h10.3v10.3h-10.3zM1030.7 769.1h10.3v10.3h-10.3zM1194.1 836.2h10.3v10.3h-10.3zM1136.1 735h10.3v10.3h-10.3zM963.1 744.8h10.3v10.3h-10.3zM971.2 740.5h10.3v10.3h-10.3zM1090.5 778h10.3v10.3h-10.3zM1114.6 750.8h10.3v10.3h-10.3zM1013.8 758.6h10.3v10.3h-10.3zM1146.7 775.4h10.3v10.3h-10.3zM1176.1 817h10.3v10.3h-10.3zM960.2 737.2h10.3v10.3h-10.3zM968.6 717.2h10.3v10.3h-10.3zM1141.8 757.2h10.3v10.3h-10.3zM1190.9 828.3h10.3v10.3h-10.3zM1038.5 772h10.3v10.3h-10.3zM1082.1 770.1h10.3v10.3h-10.3zM981.1 734.4h10.3v10.3h-10.3zM1149 813.3h10.3v10.3h-10.3zM1176.2 822.4h10.3v10.3h-10.3zM1090.1 771.7h10.3v10.3h-10.3zM1136.3 711.5h10.3v10.3h-10.3zM963.3 743.8h10.3v10.3h-10.3zM1031.8 781.8h10.3v10.3h-10.3zM1131.8 767.6h10.3v10.3h-10.3zM1154.8 817.1h10.3v10.3h-10.3zM972.9 729.2h10.3v10.3h-10.3zM970.1 722.1h10.3v10.3h-10.3zM1094.4 753.4h10.3v10.3h-10.3zM1107.3 759.3h10.3v10.3h-10.3zM1144.2 768.9h10.3v10.3h-10.3zM1188.8 821.1h10.3v10.3h-10.3zM1092.6 752.4h10.3v10.3h-10.3zM1164.7 773.6h10.3v10.3h-10.3zM1109.6 758.9h10.3v10.3h-10.3zM1114.2 751.3h10.3v10.3h-10.3zM1092.5 748.3h10.3v10.3h-10.3zM1006.7 752.9h10.3v10.3h-10.3zM969.3 732.2h10.3v10.3h-10.3zM1194.1 841.5h10.3v10.3h-10.3zM1182.6 871.5h10.3v10.3h-10.3zM921.5 746.8h10.3v10.3h-10.3zM1170.2 780.2h10.3v10.3h-10.3zM1147.3 775.7h10.3v10.3h-10.3zM1178 856.8h10.3v10.3h-10.3zM1176.8 833.3h10.3v10.3h-10.3zM1177.9 841.4h10.3v10.3h-10.3zM945.6 749.5h10.3v10.3h-10.3zM1135 722.9h10.3v10.3h-10.3zM1180.4 865.2h10.3v10.3h-10.3zM1093.8 740h10.3v10.3h-10.3zM1158.4 819h10.3v10.3h-10.3zM1139.1 553.2h10.3v10.3h-10.3zM1179 574.6h10.3v10.3h-10.3zM1176.8 572.2h10.3v10.3h-10.3zM1119.1 549.6h10.3v10.3h-10.3zM1058.6 565.9h10.3v10.3h-10.3zM1131 545.9h10.3v10.3h-10.3zM935 532.1h10.3v10.3h-10.3zM1163.1 541.4h10.3v10.3h-10.3zM1029.7 551.1h10.3v10.3h-10.3zM1048.7 547.4h10.3v10.3h-10.3zM1181.6 554.1h10.3v10.3h-10.3zM1027.1 540.3h10.3v10.3h-10.3zM1031.9 559.9h10.3v10.3h-10.3zM1087.8 516.7h10.3v10.3h-10.3zM1072.3 542.7h10.3v10.3h-10.3zM1116.2 537.1h10.3v10.3h-10.3zM1032.9 556.8h10.3v10.3h-10.3zM1185.4 552.5h10.3v10.3h-10.3zM1028.9 543.2h10.3v10.3h-10.3zM1137.4 553.1h10.3v10.3h-10.3zM894.1 514.6h10.3v10.3h-10.3zM977.9 530.8h10.3v10.3h-10.3zM1153.9 571h10.3v10.3h-10.3zM1203.5 562.7h10.3v10.3h-10.3zM910.8 526.2h10.3v10.3h-10.3zM964.6 523.7h10.3v10.3h-10.3zM1039.1 554.8h10.3v10.3h-10.3zM1155 559.1h10.3v10.3h-10.3zM877.9 512.8h10.3v10.3h-10.3zM870.5 515.7h10.3v10.3h-10.3zM920.2 531.1h10.3v10.3h-10.3zM1115.7 542.8h10.3v10.3h-10.3zM1031 561.8h10.3v10.3h-10.3zM1042.4 547.8h10.3v10.3h-10.3zM951.7 520.3h10.3v10.3h-10.3zM1029.3 554h10.3v10.3h-10.3zM1086.2 512.7h10.3v10.3h-10.3zM1062.4 564.4h10.3v10.3h-10.3zM1066.2 557.9h10.3v10.3h-10.3zM692.8 513.7h10.3v10.3h-10.3zM695.4 521h10.3v10.3h-10.3zM691.7 524.1h10.3v10.3h-10.3zM690.9 535.5h10.3v10.3h-10.3zM697.3 536.3h10.3v10.3h-10.3zM703.3 542.3h10.3v10.3h-10.3zM710.4 543.5h10.3v10.3h-10.3zM719.3 549.9h10.3v10.3h-10.3zM721.1 549.6h10.3v10.3h-10.3zM728.7 554.6h10.3v10.3h-10.3zM735.9 560.8h10.3v10.3h-10.3zM738.8 563.4h10.3v10.3h-10.3zM745 562.5h10.3v10.3h-10.3zM753.1 566.9h10.3v10.3h-10.3zM757.5 573.5h10.3v10.3h-10.3zM763.1 576.2h10.3v10.3h-10.3zM772.1 578.8h10.3v10.3h-10.3zM777.4 580h10.3v10.3h-10.3zM779.8 586.3h10.3v10.3h-10.3zM787 589.7h10.3v10.3h-10.3zM793 590.5h10.3v10.3h-10.3zM798.1 592h10.3v10.3h-10.3zM804.4 597.3h10.3v10.3h-10.3zM809.2 601.9h10.3v10.3h-10.3zM820.9 604h10.3v10.3h-10.3zM825 607.7h10.3v10.3h-10.3zM831.4 608.1h10.3v10.3h-10.3zM838 609.6h10.3v10.3h-10.3zM840.4 616.6h10.3v10.3h-10.3zM845 620h10.3v10.3h-10.3zM841.2 630.3h10.3v10.3h-10.3zM842.1 636.7h10.3v10.3h-10.3zM843.1 638.6h10.3v10.3h-10.3zM845 648.8h10.3v10.3h-10.3zM843.9 656.7h10.3v10.3h-10.3zM851.2 659.3h10.3v10.3h-10.3zM854.6 660.3h10.3v10.3h-10.3zM861 661.5h10.3v10.3h-10.3zM868.1 666.9h10.3v10.3h-10.3zM876.6 668.3h10.3v10.3h-10.3zM876.6 680h10.3v10.3h-10.3zM883.8 682.9h10.3v10.3h-10.3zM888.6 684.7h10.3v10.3h-10.3zM892.5 686.2h10.3v10.3h-10.3zM903.7 687.2h10.3v10.3h-10.3zM907 689h10.3v10.3h-10.3zM918.9 688.7h10.3v10.3h-10.3zM921.3 693.6h10.3v10.3h-10.3zM920.1 698.6h10.3v10.3h-10.3zM922.2 706.4h10.3v10.3h-10.3zM925.7 714.7h10.3v10.3h-10.3zM926.6 718.9h10.3v10.3h-10.3zM927.5 728.1h10.3v10.3h-10.3zM930.9 731.3h10.3v10.3h-10.3zM934.5 729.5h10.3v10.3h-10.3zM939.1 730.8h10.3v10.3h-10.3zM950.1 734.1h10.3v10.3h-10.3zM956.4 734.1h10.3v10.3h-10.3zM964.1 733.7h10.3v10.3h-10.3zM963.6 725.4h10.3v10.3h-10.3zM966.8 718.1h10.3v10.3h-10.3zM962.6 707.1h10.3v10.3h-10.3zM964.2 704.5h10.3v10.3h-10.3zM971.6 702.7h10.3v10.3h-10.3zM978 710.1h10.3v10.3h-10.3zM977.2 712.1h10.3v10.3h-10.3zM976 721.3h10.3v10.3h-10.3zM980.9 722h10.3v10.3h-10.3zM989.3 728.1h10.3v10.3h-10.3zM992.7 729.9h10.3v10.3h-10.3zM1000.5 731.6h10.3v10.3h-10.3zM1000.1 745.2h10.3v10.3h-10.3zM1001.1 750.8h10.3v10.3h-10.3zM1009.1 746.2h10.3v10.3h-10.3zM1019.3 745.6h10.3v10.3h-10.3zM1022.4 745.2h10.3v10.3h-10.3zM1029.4 750.6h10.3v10.3h-10.3zM1034.4 757.8h10.3v10.3h-10.3zM1031.8 763.7h10.3v10.3h-10.3zM1037.7 767h10.3v10.3h-10.3zM1042.4 763.8h10.3v10.3h-10.3zM1051.1 767.6h10.3v10.3h-10.3zM1057.7 767h10.3v10.3h-10.3zM1065.9 765.9h10.3v10.3h-10.3zM1068.8 764.5h10.3v10.3h-10.3zM1080.1 762.3h10.3v10.3h-10.3zM1084.7 758.2h10.3v10.3h-10.3zM1085.5 753.8h10.3v10.3h-10.3zM1084.8 747.3h10.3v10.3h-10.3zM1086.1 739.1h10.3v10.3h-10.3zM1087 730.2h10.3v10.3h-10.3zM1084.4 727.5h10.3v10.3h-10.3zM1087.4 720.9h10.3v10.3h-10.3zM1086.8 715.5h10.3v10.3h-10.3zM1085.6 705.7h10.3v10.3h-10.3zM1095.4 704.5h10.3v10.3h-10.3zM1096.2 706.3h10.3v10.3h-10.3zM1099.7 715.1h10.3v10.3h-10.3zM1098.7 719.3h10.3v10.3h-10.3zM1097.4 728h10.3v10.3h-10.3zM1099.5 738h10.3v10.3h-10.3zM1099.4 742.2h10.3v10.3h-10.3zM1096.6 753.6h10.3v10.3h-10.3zM1098.9 753.8h10.3v10.3h-10.3zM1102.8 750.8h10.3v10.3h-10.3zM1107.3 738.9h10.3v10.3h-10.3zM1108.6 734.3h10.3v10.3h-10.3zM1115.6 730.2h10.3v10.3h-10.3zM1119.7 736.9h10.3v10.3h-10.3zM1119.9 744.7h10.3v10.3h-10.3zM1124 748.6h10.3v10.3h-10.3zM1131 746.1h10.3v10.3h-10.3zM1131.2 738.1h10.3v10.3h-10.3zM1129.6 732.7h10.3v10.3h-10.3zM1130.9 725.7h10.3v10.3h-10.3zM1127.8 718.1h10.3v10.3h-10.3zM1128.2 709.9h10.3v10.3h-10.3zM1130.6 708.1h10.3v10.3h-10.3zM1131.4 698h10.3v10.3h-10.3zM1135.8 696.8h10.3v10.3h-10.3zM1138.6 696.1h10.3v10.3h-10.3zM1143.3 707h10.3v10.3h-10.3zM1143.5 712h10.3v10.3h-10.3zM1141.2 718.6h10.3v10.3h-10.3zM1139.7 723.6h10.3v10.3h-10.3zM1144.7 734.1h10.3v10.3h-10.3zM1144.8 743.8h10.3v10.3h-10.3zM1147.4 748.1h10.3v10.3h-10.3zM1147.8 754h10.3v10.3h-10.3zM1148.8 759.7h10.3v10.3h-10.3zM1150.7 767.1h10.3v10.3h-10.3zM1151.4 772.8h10.3v10.3h-10.3zM1152.6 781.7h10.3v10.3h-10.3zM1153.4 785.4h10.3v10.3h-10.3zM1154.5 797.4h10.3v10.3h-10.3zM1152.4 804.1h10.3v10.3h-10.3zM1153.4 799.1h10.3v10.3h-10.3zM1155.4 795.2h10.3v10.3h-10.3zM1155.9 784.8h10.3v10.3h-10.3zM1154.4 778.4h10.3v10.3h-10.3zM1156.8 773.9h10.3v10.3h-10.3zM1154.5 767.8h10.3v10.3h-10.3zM1157.2 758.2h10.3v10.3h-10.3zM1155.5 748.2h10.3v10.3h-10.3zM1155.1 747.2h10.3v10.3h-10.3zM1164.8 744.4h10.3v10.3h-10.3zM1166.6 747.7h10.3v10.3h-10.3zM1169.8 753.8h10.3v10.3h-10.3zM1168.5 760h10.3v10.3h-10.3zM1170.8 770.1h10.3v10.3h-10.3zM1175.7 774.4h10.3v10.3h-10.3zM1177.1 780.2h10.3v10.3h-10.3zM1178.7 782h10.3v10.3h-10.3zM1182.8 792.4h10.3v10.3h-10.3zM1183.3 799.5h10.3v10.3h-10.3zM1183 803.5h10.3v10.3h-10.3zM1184 810.5h10.3v10.3h-10.3zM1183 817.7h10.3v10.3h-10.3zM1182.3 823.8h10.3v10.3h-10.3zM1182.6 832.6h10.3v10.3h-10.3zM1184.6 840.3h10.3v10.3h-10.3zM1181.6 846.9h10.3v10.3h-10.3zM1183.5 841.4h10.3v10.3h-10.3zM1186.8 833.6h10.3v10.3h-10.3zM1185.3 828.1h10.3v10.3h-10.3zM1184.2 825.1h10.3v10.3h-10.3zM1185.4 813.1h10.3v10.3h-10.3zM1186.7 809.9h10.3v10.3h-10.3zM1196.7 809h10.3v10.3h-10.3zM1195.7 821.8h10.3v10.3h-10.3zM1197.9 823.3h10.3v10.3h-10.3zM1199.6 831.6h10.3v10.3h-10.3zM1200.4 837.8h10.3v10.3h-10.3zM1201.1 843.8h10.3v10.3h-10.3zM1205.2 843.1h10.3v10.3h-10.3zM1205.1 831.6h10.3v10.3h-10.3zM1203.1 824.1h10.3v10.3h-10.3zM1204.9 821h10.3v10.3h-10.3zM1205.2 812.9h10.3v10.3h-10.3zM1203.8 805.6h10.3v10.3h-10.3zM1206 799.2h10.3v10.3h-10.3zM1207.8 792.6h10.3v10.3h-10.3zM1205.8 782.7h10.3v10.3h-10.3zM1207.2 779.5h10.3v10.3h-10.3zM1207.1 759.8h10.3v10.3h-10.3zM1207.7 751h10.3v10.3h-10.3zM1208 604.3h10.3v10.3h-10.3zM1207.7 588.9h10.3v10.3h-10.3zM1206.6 583.5h10.3v10.3h-10.3zM1197.9 563.5h10.3v10.3h-10.3zM1192.3 565.3h10.3v10.3h-10.3zM1185.4 563.4h10.3v10.3h-10.3zM1184.3 568.9h10.3v10.3h-10.3zM1186.5 578.8h10.3v10.3h-10.3zM1185.7 580.2h10.3v10.3h-10.3zM1180.8 589h10.3v10.3h-10.3zM1173.3 588.9h10.3v10.3h-10.3zM1172.1 581.3h10.3v10.3h-10.3zM1170.7 574.4h10.3v10.3h-10.3zM1165.9 564h10.3v10.3h-10.3zM1162.7 559.4h10.3v10.3h-10.3zM1160.6 552.9h10.3v10.3h-10.3zM1159.4 551.8h10.3v10.3h-10.3zM1158.9 562.6h10.3v10.3h-10.3zM1156.5 568.8h10.3v10.3h-10.3zM1159.7 574.8h10.3v10.3h-10.3zM1154.6 580.6h10.3v10.3h-10.3zM1147 577.9h10.3v10.3h-10.3zM1146.1 574.2h10.3v10.3h-10.3zM1139.5 566.8h10.3v10.3h-10.3zM1134.1 562.7h10.3v10.3h-10.3zM1132 557.7h10.3v10.3h-10.3zM1129 552.2h10.3v10.3h-10.3zM1126.9 554.7h10.3v10.3h-10.3zM1117.3 560h10.3v10.3h-10.3zM1113.3 557.4h10.3v10.3h-10.3zM1111.3 551.6h10.3v10.3h-10.3zM1111 543.4h10.3v10.3h-10.3zM1109.1 536.6h10.3v10.3h-10.3zM1105.8 526.4h10.3v10.3h-10.3zM1105.1 522.7h10.3v10.3h-10.3zM1102.3 520h10.3v10.3h-10.3zM1092.4 520.2h10.3v10.3h-10.3zM1088.4 523.9h10.3v10.3h-10.3zM1087.6 533.3h10.3v10.3h-10.3zM1089.6 535.3h10.3v10.3h-10.3zM1087.3 543.9h10.3v10.3h-10.3zM1076.7 549.3h10.3v10.3h-10.3zM1075.8 551.4h10.3v10.3h-10.3zM1071.2 559.1h10.3v10.3h-10.3zM1065.3 566.4h10.3v10.3h-10.3zM1062 572.8h10.3v10.3h-10.3zM1055.1 575h10.3v10.3h-10.3zM1051 565.7h10.3v10.3h-10.3zM1050.6 561.5h10.3v10.3h-10.3zM1045.6 556.2h10.3v10.3h-10.3zM1040.5 561.8h10.3v10.3h-10.3zM1033.3 564.5h10.3v10.3h-10.3zM1031.6 566.8h10.3v10.3h-10.3zM1025.3 570.2h10.3v10.3h-10.3zM1020.7 564.2h10.3v10.3h-10.3zM1024.7 554.6h10.3v10.3h-10.3zM1020 550.8h10.3v10.3h-10.3zM1014.7 547.3h10.3v10.3h-10.3zM1008.6 546.3h10.3v10.3h-10.3zM1002.8 549h10.3v10.3h-10.3zM999.2 553h10.3v10.3h-10.3zM991.7 550.5h10.3v10.3h-10.3zM985.9 548.2h10.3v10.3h-10.3zM981.4 548.9h10.3v10.3h-10.3zM977.7 542.2h10.3v10.3h-10.3zM972 530.5h10.3v10.3h-10.3zM969.9 530.5h10.3v10.3h-10.3zM963.1 529.1h10.3v10.3h-10.3zM951.7 530.5h10.3v10.3h-10.3zM949.5 532.3h10.3v10.3h-10.3zM944.1 534.2h10.3v10.3h-10.3zM934.8 540h10.3v10.3h-10.3zM929.7 546.2h10.3v10.3h-10.3zM930 542.6h10.3v10.3h-10.3zM918.4 539h10.3v10.3h-10.3zM914.1 537.6h10.3v10.3h-10.3zM909 534.2h10.3v10.3h-10.3zM899.5 529.1h10.3v10.3h-10.3zM899.1 526.5h10.3v10.3h-10.3zM890.4 523.7h10.3v10.3h-10.3zM880.2 521.4h10.3v10.3h-10.3zM877.1 525.2h10.3v10.3h-10.3zM869.5 524h10.3v10.3h-10.3zM861.4 519.7h10.3v10.3h-10.3zM858.4 518.4h10.3v10.3h-10.3zM850.9 513.3h10.3v10.3h-10.3zM844.8 513.1h10.3v10.3h-10.3zM838.2 508.5h10.3v10.3h-10.3zM834.2 503.7h10.3v10.3h-10.3zM825.5 501h10.3v10.3h-10.3zM815.2 503.2h10.3v10.3h-10.3zM809.8 502h10.3v10.3h-10.3zM802.3 501.8h10.3v10.3h-10.3zM793.7 505h10.3v10.3h-10.3zM787.6 502.1h10.3v10.3h-10.3zM777.9 505.7h10.3v10.3h-10.3zM778.6 504.7h10.3v10.3h-10.3zM769.1 504.1h10.3v10.3h-10.3zM763.5 507h10.3v10.3h-10.3zM751.7 507.3h10.3v10.3h-10.3zM747.8 506.3h10.3v10.3h-10.3zM738.4 506.2h10.3v10.3h-10.3zM730.1 508.9h10.3v10.3h-10.3zM724.4 505.4h10.3v10.3h-10.3zM718.7 508.4h10.3v10.3h-10.3zM711.8 509.3h10.3v10.3h-10.3zM708.1 509.6h10.3v10.3h-10.3zM698 507.4h10.3v10.3h-10.3zM1279.1 548.3h10.3v10.3h-10.3zM1279.1 557.3h10.3v10.3h-10.3zM1278 562.6h10.3v10.3h-10.3zM1278.4 567.5h10.3v10.3h-10.3zM1278.8 574.8h10.3v10.3h-10.3zM1279.2 580.2h10.3v10.3h-10.3zM1279.1 590h10.3v10.3h-10.3zM1278.2 595.7h10.3v10.3h-10.3zM1278.7 603h10.3v10.3h-10.3zM1279.3 611.9h10.3v10.3h-10.3zM1279 617.4h10.3v10.3h-10.3zM1279.7 624.4h10.3v10.3h-10.3zM1279.8 632.9h10.3v10.3h-10.3zM1278.3 640.7h10.3v10.3h-10.3zM1279.7 647.4h10.3v10.3h-10.3zM1278.4 655h10.3v10.3h-10.3zM1278.5 659.5h10.3v10.3h-10.3zM1279.5 668.8h10.3v10.3h-10.3zM1278.2 673.9h10.3v10.3h-10.3zM1278.3 680.9h10.3v10.3h-10.3zM1278.2 686.7h10.3v10.3h-10.3zM1279.5 693.4h10.3v10.3h-10.3zM1278.6 703h10.3v10.3h-10.3zM1278 708.4h10.3v10.3h-10.3zM1278.1 716.2h10.3v10.3h-10.3zM1278.2 723.4h10.3v10.3h-10.3zM1278.7 727.9h10.3v10.3h-10.3zM1279.7 735.5h10.3v10.3h-10.3zM1278.9 743.6h10.3v10.3h-10.3zM1279.2 754h10.3v10.3h-10.3zM1278.8 760.4h10.3v10.3h-10.3zM1280 763.7h10.3v10.3h-10.3zM1279.8 773.6h10.3v10.3h-10.3zM1279.9 777.2h10.3v10.3h-10.3zM1279.7 786.1h10.3v10.3h-10.3zM1284 788.7h10.3v10.3h-10.3zM1284.6 782h10.3v10.3h-10.3zM1283.6 775.3h10.3v10.3h-10.3zM1283.4 767.9h10.3v10.3h-10.3zM1285.9 760.2h10.3v10.3h-10.3zM1290.8 755.8h10.3v10.3h-10.3zM1294.6 752h10.3v10.3h-10.3zM1299.5 748.6h10.3v10.3h-10.3zM1307.7 752.6h10.3v10.3h-10.3zM1313.3 756h10.3v10.3h-10.3zM1317.1 761.6h10.3v10.3h-10.3zM1318.1 770.4h10.3v10.3h-10.3zM1317.8 776.2h10.3v10.3h-10.3zM1317.8 780.2h10.3v10.3h-10.3zM1319.6 786.4h10.3v10.3h-10.3zM1324.5 787.3h10.3v10.3h-10.3zM1325.2 779.8h10.3v10.3h-10.3zM1325.3 775.1h10.3v10.3h-10.3zM1325.6 766.5h10.3v10.3h-10.3zM1326.8 759.4h10.3v10.3h-10.3zM1325.2 753.4h10.3v10.3h-10.3zM1326.8 749.1h10.3v10.3h-10.3zM1329.1 739.4h10.3v10.3h-10.3zM1328.8 731.2h10.3v10.3h-10.3zM1328.6 726.3h10.3v10.3h-10.3zM1329.6 720.1h10.3v10.3h-10.3zM1329.9 710.8h10.3v10.3h-10.3zM1331.2 703.8h10.3v10.3h-10.3zM1331.1 699.9h10.3v10.3h-10.3zM1336.6 689h10.3v10.3h-10.3zM1339.3 683.6h10.3v10.3h-10.3zM1340.1 677.8h10.3v10.3h-10.3zM1339.6 672.5h10.3v10.3h-10.3zM1340.1 665.8h10.3v10.3h-10.3zM1339.7 659.3h10.3v10.3h-10.3zM1340.6 650.5h10.3v10.3h-10.3zM1338.9 641.5h10.3v10.3h-10.3zM1340.3 637.4h10.3v10.3h-10.3zM1339.9 629.4h10.3v10.3h-10.3zM1340.5 623.4h10.3v10.3h-10.3zM1339.7 618.4h10.3v10.3h-10.3zM1340.8 609.5h10.3v10.3h-10.3zM1340.9 600.4h10.3v10.3h-10.3zM1339.8 595.5h10.3v10.3h-10.3zM1340.4 587.1h10.3v10.3h-10.3zM1340.9 580.7h10.3v10.3h-10.3zM1339.3 571.6h10.3v10.3h-10.3zM1339.4 567.6h10.3v10.3h-10.3zM1339.7 561.4h10.3v10.3h-10.3zM1338.4 550.2h10.3v10.3h-10.3zM1340.1 544.8h10.3v10.3h-10.3zM1338.8 537.1h10.3v10.3h-10.3zM1338 529.3h10.3v10.3h-10.3zM1338 525.4h10.3v10.3h-10.3zM1338.7 515.8h10.3v10.3h-10.3zM1337.2 508.8h10.3v10.3h-10.3zM1334.7 514.7h10.3v10.3h-10.3zM1332.8 522h10.3v10.3h-10.3zM1332.2 526.2h10.3v10.3h-10.3zM1330 533.2h10.3v10.3h-10.3zM1322.8 539.1h10.3v10.3h-10.3zM1317.8 541.8h10.3v10.3h-10.3zM1311 540.1h10.3v10.3h-10.3zM1306.6 531.6h10.3v10.3h-10.3zM1305.1 535.6h10.3v10.3h-10.3zM1303.8 545.2h10.3v10.3h-10.3zM1302.2 551.1h10.3v10.3h-10.3zM1300.9 558.7h10.3v10.3h-10.3zM1298.8 563.6h10.3v10.3h-10.3zM1292.5 565.4h10.3v10.3h-10.3zM1287.5 563.5h10.3v10.3h-10.3zM1285.5 556.1h10.3v10.3h-10.3zM1285.7 548.2h10.3v10.3h-10.3zM1284.6 542.1h10.3v10.3h-10.3zM1281.3 533.5h10.3v10.3h-10.3zM1279.4 540.6h10.3v10.3h-10.3z" fill="none" stroke="#2ca02c" stroke-width="2.7"/>
</g>
<path d="M410.1 1016v-12M410.1 59v12M503.8 1016v-12M503.8 59v12M570.3 1016v-12M570.3 59v12M621.9 1016v-12M621.9 59v12M664.0 1016v-12M664.0 59v12M699.6 1016v-12M699.6 59v12M730.4 1016v-12M730.4 59v12M757.7 1016v-12M757.7 59v12M782.0 1016v-20M782.0 59v20M942.1 1016v-12M942.1 59v12M1035.8 1016v-12M1035.8 59v12M1102.3 1016v-12M1102.3 59v12M1153.9 1016v-12M1153.9 59v12M1196.0 1016v-12M1196.0 59v12M1231.6 1016v-12M1231.6 59v12M1262.4 1016v-12M1262.4 59v12M1289.7 1016v-12M1289.7 59v12M1314.0 1016v-20M1314.0 59v20M326 1006.5h12M1395 1006.5h-12M326 997.3h12M1395 997.3h-12M326 989.2h12M1395 989.2h-12M326 982.0h20M1395 982.0h-20M326 934.4h12M1395 934.4h-12M326 906.6h12M1395 906.6h-12M326 886.9h12M1395 886.9h-12M326 871.6h12M1395 871.6h-12M326 859.1h12M1395 859.1h-12M326 848.5h12M1395 848.5h-12M326 839.3h12M1395 839.3h-12M326 831.2h12M1395 831.2h-12M326 824.0h20M1395 824.0h-20M326 776.4h12M1395 776.4h-12M326 748.6h12M1395 748.6h-12M326 728.9h12M1395 728.9h-12M326 713.6h12M1395 713.6h-12M326 701.1h12M1395 701.1h-12M326 690.5h12M1395 690.5h-12M326 681.3h12M1395 681.3h-12M326 673.2h12M1395 673.2h-12M326 666.0h20M1395 666.0h-20M326 618.4h12M1395 618.4h-12M326 590.6h12M1395 590.6h-12M326 570.9h12M1395 570.9h-12M326 555.6h12M1395 555.6h-12M326 543.1h12M1395 543.1h-12M326 532.5h12M1395 532.5h-12M326 523.3h12M1395 523.3h-12M326 515.2h12M1395 515.2h-12M326 508.0h20M1395 508.0h-20M326 460.4h12M1395 460.4h-12M326 432.6h12M1395 432.6h-12M326 412.9h12M1395 412.9h-12M326 397.6h12M1395 397.6h-12M326 385.1h12M1395 385.1h-12M326 374.5h12M1395 374.5h-12M326 365.3h12M1395 365.3h-12M326 357.2h12M1395 357.2h-12M326 350.0h20M1395 350.0h-20M326 302.4h12M1395 302.4h-12M326 274.6h12M1395 274.6h-12M326 254.9h12M1395 254.9h-12M326 239.6h12M1395 239.6h-12M326 227.1h12M1395 227.1h-12M326 216.5h12M1395 216.5h-12M326 207.3h12M1395 207.3h-12M326 199.2h12M1395 199.2h-12M326 192.0h20M1395 192.0h-20M326 144.4h12M1395 144.4h-12M326 116.6h12M1395 116.6h-12M326 96.9h12M1395 96.9h-12M326 81.6h12M1395 81.6h-12M326 69.1h12M1395 69.1h-12" stroke="#000" stroke-width="4" fill="none"/>
<rect x="326" y="59" width="1069" height="957" fill="none" stroke="#000" stroke-width="4"/>
<text x="199.01" y="214.70" font-size="62.60" textLength="72.48" lengthAdjust="spacingAndGlyphs">10</text><text x="272.19" y="192.30" font-size="44.00" textLength="25.16" lengthAdjust="spacingAndGlyphs">0</text>
<text x="164.58" y="372.70" font-size="62.60" textLength="72.93" lengthAdjust="spacingAndGlyphs">10</text><rect x="242" y="334.9" width="25.8" height="3.7"/><text x="274.90" y="350.30" font-size="44.00" textLength="22.25" lengthAdjust="spacingAndGlyphs">1</text>
<text x="164.58" y="530.70" font-size="62.60" textLength="72.93" lengthAdjust="spacingAndGlyphs">10</text><rect x="242" y="492.9" width="25.8" height="3.7"/><text x="272.77" y="508.30" font-size="44.00" textLength="24.81" lengthAdjust="spacingAndGlyphs">2</text>
<text x="164.58" y="688.70" font-size="62.60" textLength="72.93" lengthAdjust="spacingAndGlyphs">10</text><rect x="242" y="650.9" width="25.8" height="3.7"/><text x="273.85" y="666.30" font-size="44.00" textLength="24.47" lengthAdjust="spacingAndGlyphs">3</text>
<text x="164.58" y="846.70" font-size="62.60" textLength="72.93" lengthAdjust="spacingAndGlyphs">10</text><rect x="242" y="808.9" width="25.8" height="3.7"/><text x="272.27" y="824.30" font-size="44.00" textLength="25.44" lengthAdjust="spacingAndGlyphs">4</text>
<text x="164.58" y="1004.70" font-size="62.60" textLength="72.93" lengthAdjust="spacingAndGlyphs">10</text><rect x="242" y="966.9" width="25.8" height="3.7"/><text x="273.82" y="982.30" font-size="44.00" textLength="23.42" lengthAdjust="spacingAndGlyphs">5</text>
<text x="734.15" y="1091.20" font-size="62.60" textLength="71.93" lengthAdjust="spacingAndGlyphs">10</text><text x="807.56" y="1068.00" font-size="44.00" textLength="23.84" lengthAdjust="spacingAndGlyphs">2</text><text x="1267.27" y="1091.20" font-size="62.60" textLength="71.70" lengthAdjust="spacingAndGlyphs">10</text><text x="1341.27" y="1068.20" font-size="44.00" textLength="23.36" lengthAdjust="spacingAndGlyphs">3</text>
<text x="601.77" y="1190.80" font-size="62.60" textLength="305.27" lengthAdjust="spacingAndGlyphs">Frequency</text><text x="928.46" y="1188.50" font-size="59.47" textLength="16.71" lengthAdjust="spacingAndGlyphs">(</text><text x="949.98" y="1190.80" font-size="62.60" textLength="88.36" lengthAdjust="spacingAndGlyphs">cm</text><rect x="1043.2" y="1154.6" width="25.7" height="3.8"/><text x="1075.57" y="1169.30" font-size="44.00" textLength="22.50" lengthAdjust="spacingAndGlyphs">1</text><text x="1105.42" y="1188.50" font-size="59.47" textLength="16.71" lengthAdjust="spacingAndGlyphs">)</text>
<g transform="rotate(-90)"><text x="-860.18" y="112.60" font-size="62.60" textLength="298.12" lengthAdjust="spacingAndGlyphs">Scattering</text><text x="-541.42" y="112.60" font-size="62.60" textLength="133.66" lengthAdjust="spacingAndGlyphs">Rate</text><text x="-386.27" y="110.30" font-size="59.47" textLength="16.34" lengthAdjust="spacingAndGlyphs">(</text><text x="-364.40" y="112.60" font-size="62.60" textLength="64.92" lengthAdjust="spacingAndGlyphs">ps</text><rect x="-293.4" y="75.2" width="25.5" height="3.8"/><text x="-261.55" y="90.20" font-size="44.00" textLength="22.63" lengthAdjust="spacingAndGlyphs">1</text><text x="-231.47" y="110.30" font-size="59.47" textLength="16.34" lengthAdjust="spacingAndGlyphs">)</text></g>
<rect x="351" y="84" width="388" height="214" fill="#fff" fill-opacity="0.5" stroke="#8c8c8c" stroke-width="1.7"/>
<circle cx="396.4" cy="125.5" r="5.3" fill="none" stroke="#1f77b4" stroke-width="2.7"/><path d="M396.5 183.6l5 10h-10z" fill="none" stroke="#ff7f0e" stroke-width="2.7"/><rect x="391.3" y="246.4" width="10.3" height="10.3" fill="none" stroke="#2ca02c" stroke-width="2.7"/>
<text x="441.91" y="143.20" font-size="52.30" textLength="260.13" lengthAdjust="spacingAndGlyphs">3ph(300K)</text><text x="440.56" y="205.70" font-size="52.30" textLength="183.28" lengthAdjust="spacingAndGlyphs">isotope</text><text x="441.70" y="269.20" font-size="52.30" textLength="276.67" lengthAdjust="spacingAndGlyphs">L=1000nm</text>
</svg>
</body></html>
